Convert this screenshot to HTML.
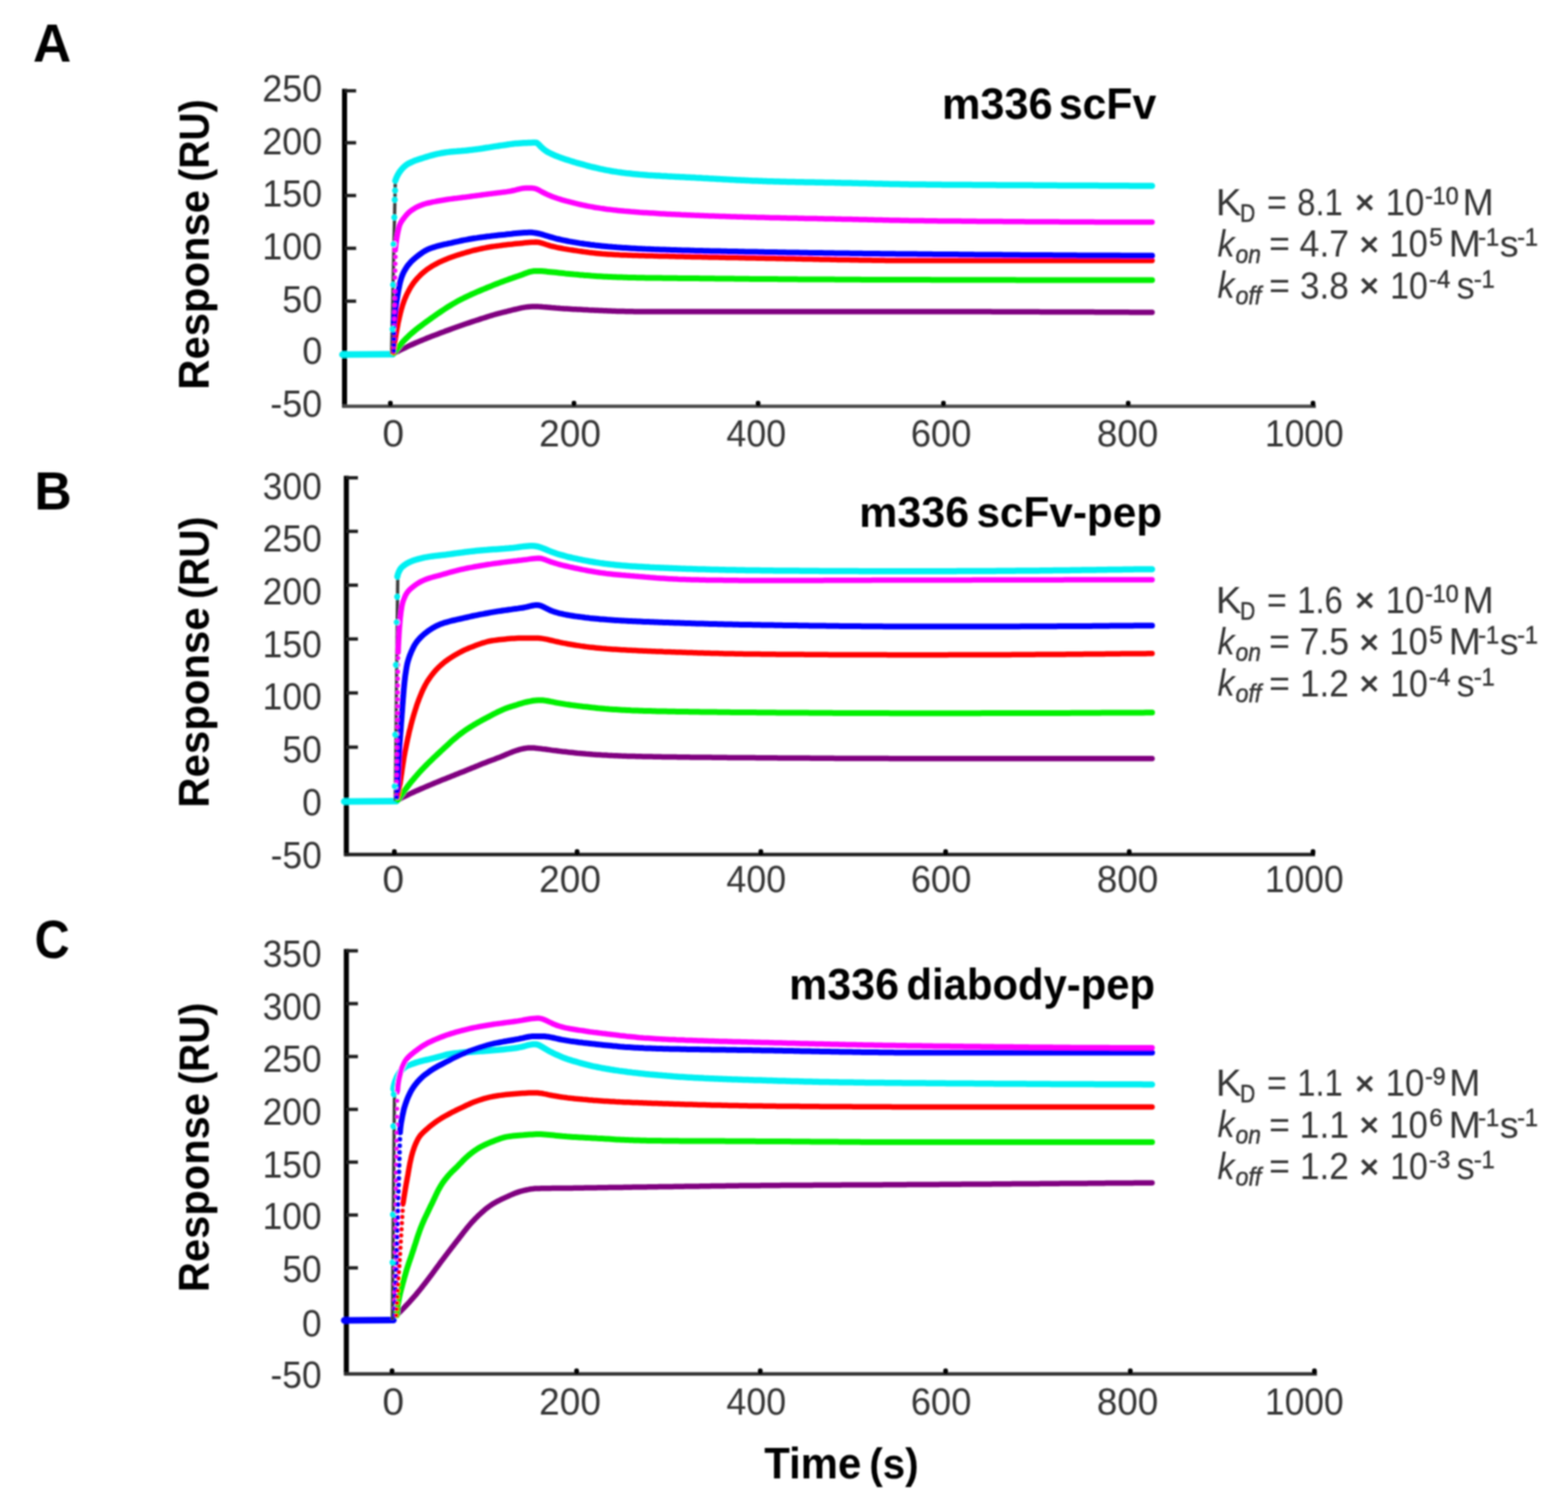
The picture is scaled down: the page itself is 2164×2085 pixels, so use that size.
<!DOCTYPE html><html><head><meta charset="utf-8"><title>SPR sensorgrams: m336 scFv, scFv-pep, diabody-pep</title><style>
html,body{margin:0;padding:0;background:#fff;width:2164px;height:2085px;overflow:hidden}
svg{display:block}
text{font-family:'Liberation Sans', Arial, sans-serif;fill:#363636}
.k text{fill:#000}
</style></head><body>
<svg width="2164" height="2085" viewBox="0 0 2164 2085">
<defs><filter id="soft" filterUnits="userSpaceOnUse" x="0" y="0" width="2164" height="2085"><feGaussianBlur stdDeviation="0.8"/></filter></defs>
<rect width="2164" height="2085" fill="#fff"/>
<g filter="url(#soft)">
<g id="panelA">
<path d="M475.5,122.5 V562.6" stroke="#000" stroke-width="7"/>
<path d="M472.5,560.6 H1816.0" stroke="#4a4a4a" stroke-width="4.8"/>
<path d="M475.5,125.3 H491.5" stroke="#1e1e1e" stroke-width="4.6"/>
<path d="M475.5,197.0 H491.5" stroke="#1e1e1e" stroke-width="4.6"/>
<path d="M475.5,269.8 H491.5" stroke="#1e1e1e" stroke-width="4.6"/>
<path d="M475.5,342.6 H491.5" stroke="#1e1e1e" stroke-width="4.6"/>
<path d="M475.5,415.6 H491.5" stroke="#1e1e1e" stroke-width="4.6"/>
<path d="M475.5,488.5 H491.5" stroke="#1e1e1e" stroke-width="4.6"/>
<rect x="535.5" y="553.1" width="6.5" height="8" rx="3" fill="#000"/>
<rect x="788.9" y="553.1" width="6.5" height="8" rx="3" fill="#000"/>
<rect x="1043.0" y="553.1" width="6.5" height="8" rx="3" fill="#000"/>
<rect x="1298.8" y="553.1" width="6.5" height="8" rx="3" fill="#000"/>
<rect x="1553.8" y="553.1" width="6.5" height="8" rx="3" fill="#000"/>
<rect x="1808.8" y="553.1" width="6.5" height="8" rx="3" fill="#000"/>
<path d="M472.5,489.3 L542.0,488.8" stroke="#00F0F2" stroke-width="9.0" stroke-linecap="round"/>
<path d="M540.5,488.8 L545.5,252.0" stroke="#3c3c3c" stroke-width="4.6"/>
<path d="M543.5,487.5 L546.2,486.1 L548.9,484.8 L551.6,483.4 L554.3,482.1 L557.0,480.8 L559.7,479.5 L562.5,478.2 L565.2,476.9 L567.9,475.7 L570.7,474.5 L573.4,473.3 L576.2,472.1 L579.0,470.9 L581.8,469.7 L584.5,468.6 L587.3,467.5 L590.1,466.3 L592.9,465.2 L595.8,464.1 L598.6,463.0 L601.4,462.0 L604.2,460.9 L607.0,459.8 L609.8,458.7 L612.7,457.7 L615.5,456.6 L618.3,455.6 L621.1,454.6 L624.0,453.5 L626.8,452.5 L629.6,451.5 L632.5,450.5 L635.3,449.5 L638.2,448.5 L641.0,447.5 L643.9,446.5 L646.7,445.6 L649.6,444.6 L652.5,443.7 L655.3,442.8 L658.2,441.8 L661.1,440.9 L663.9,439.9 L666.8,439.0 L669.7,438.1 L672.6,437.2 L675.4,436.3 L678.3,435.4 L681.2,434.5 L684.1,433.7 L687.0,432.9 L689.9,432.1 L692.8,431.4 L695.8,430.7 L698.7,430.0 L701.6,429.2 L704.6,428.5 L707.5,427.7 L710.5,427.0 L713.4,426.3 L716.4,425.6 L719.4,424.9 L722.3,424.4 L725.3,423.9 L728.3,423.5 L731.3,423.2 L734.3,423.0 L737.2,422.9 L740.2,422.9 L743.2,423.1 L746.2,423.2 L749.2,423.5 L752.2,423.7 L755.2,424.0 L758.2,424.3 L761.3,424.6 L764.3,424.8 L767.3,425.1 L770.3,425.3 L773.3,425.6 L776.3,425.8 L779.3,426.0 L782.3,426.1 L785.3,426.3 L788.3,426.5 L791.4,426.7 L794.4,426.8 L797.4,427.0 L800.4,427.1 L803.4,427.3 L806.4,427.5 L809.4,427.6 L812.4,427.8 L815.4,427.9 L818.4,428.0 L821.5,428.2 L824.5,428.3 L827.5,428.5 L830.5,428.6 L833.5,428.7 L836.5,428.8 L839.5,429.0 L842.5,429.1 L845.6,429.2 L848.6,429.3 L851.6,429.4 L854.6,429.5 L857.6,429.5 L860.6,429.6 L863.6,429.7 L866.6,429.7 L869.6,429.8 L872.7,429.8 L875.7,429.9 L878.7,429.9 L881.7,429.9 L884.7,429.9 L887.7,429.9 L890.7,430.0 L893.8,430.0 L896.8,430.0 L899.8,430.0 L902.8,430.0 L905.8,430.0 L908.8,430.0 L911.8,430.0 L914.8,430.0 L917.9,430.0 L920.9,430.0 L923.9,430.0 L926.9,430.0 L929.9,430.0 L932.9,430.0 L935.9,430.0 L939.0,430.0 L942.0,430.0 L945.0,430.0 L948.0,430.0 L951.0,430.0 L954.0,430.0 L957.0,430.0 L960.0,430.0 L963.1,430.0 L966.1,430.0 L969.1,430.0 L972.1,430.0 L975.1,430.0 L978.1,430.0 L981.1,430.0 L984.2,430.0 L987.2,430.0 L990.2,430.0 L993.2,430.0 L996.2,430.0 L999.2,430.0 L1002.2,430.0 L1005.3,430.0 L1008.3,430.0 L1011.3,430.0 L1014.3,430.0 L1017.3,430.0 L1020.3,430.0 L1023.3,430.0 L1026.4,430.0 L1029.4,430.0 L1032.4,430.0 L1035.4,430.0 L1038.4,430.0 L1041.4,430.0 L1044.4,430.0 L1047.5,430.0 L1050.5,430.0 L1053.5,430.0 L1056.5,430.0 L1059.5,430.0 L1062.5,430.0 L1065.5,430.0 L1068.6,430.0 L1071.6,430.0 L1074.6,430.0 L1077.6,430.0 L1080.6,430.0 L1083.6,430.0 L1086.6,430.0 L1089.7,430.0 L1092.7,430.0 L1095.7,430.0 L1098.7,430.0 L1101.7,430.0 L1104.7,430.0 L1107.7,430.0 L1110.8,430.0 L1113.8,430.0 L1116.8,430.0 L1119.8,430.0 L1122.8,430.0 L1125.8,430.0 L1128.8,430.0 L1131.9,430.0 L1134.9,430.0 L1137.9,430.0 L1140.9,430.0 L1143.9,430.0 L1146.9,430.0 L1149.9,430.0 L1153.0,430.0 L1156.0,430.0 L1159.0,430.0 L1162.0,430.0 L1165.0,430.0 L1168.0,430.0 L1171.0,430.0 L1174.1,430.0 L1177.1,430.0 L1180.1,430.0 L1183.1,430.0 L1186.1,430.0 L1189.1,430.0 L1192.1,430.0 L1195.2,430.0 L1198.2,430.0 L1201.2,430.0 L1204.2,430.0 L1207.2,430.0 L1210.2,430.0 L1213.2,430.0 L1216.3,430.0 L1219.3,430.0 L1222.3,430.0 L1225.3,430.0 L1228.3,430.0 L1231.3,430.0 L1234.3,430.0 L1237.4,430.0 L1240.4,430.0 L1243.4,430.0 L1246.4,430.0 L1249.4,430.0 L1252.4,430.0 L1255.4,430.0 L1258.5,430.0 L1261.5,430.0 L1264.5,430.0 L1267.5,430.0 L1270.5,430.0 L1273.5,430.0 L1276.5,430.0 L1279.6,430.0 L1282.6,430.0 L1285.6,430.0 L1288.6,430.0 L1291.6,430.0 L1294.6,430.0 L1297.6,430.0 L1300.7,430.0 L1303.7,430.0 L1306.7,430.0 L1309.7,430.0 L1312.7,430.0 L1315.7,430.0 L1318.7,430.1 L1321.8,430.1 L1324.8,430.1 L1327.8,430.1 L1330.8,430.1 L1333.8,430.1 L1336.8,430.1 L1339.8,430.1 L1342.9,430.1 L1345.9,430.1 L1348.9,430.1 L1351.9,430.1 L1354.9,430.1 L1357.9,430.1 L1360.9,430.1 L1363.9,430.1 L1367.0,430.1 L1370.0,430.2 L1373.0,430.2 L1376.0,430.2 L1379.0,430.2 L1382.0,430.2 L1385.0,430.2 L1388.1,430.2 L1391.1,430.2 L1394.1,430.2 L1397.1,430.2 L1400.1,430.2 L1403.1,430.2 L1406.1,430.3 L1409.2,430.3 L1412.2,430.3 L1415.2,430.3 L1418.2,430.3 L1421.2,430.3 L1424.2,430.3 L1427.2,430.3 L1430.3,430.3 L1433.3,430.3 L1436.3,430.4 L1439.3,430.4 L1442.3,430.4 L1445.3,430.4 L1448.3,430.4 L1451.4,430.4 L1454.4,430.4 L1457.4,430.4 L1460.4,430.4 L1463.4,430.5 L1466.4,430.5 L1469.4,430.5 L1472.5,430.5 L1475.5,430.5 L1478.5,430.5 L1481.5,430.5 L1484.5,430.5 L1487.5,430.6 L1490.5,430.6 L1493.6,430.6 L1496.6,430.6 L1499.6,430.6 L1502.6,430.6 L1505.6,430.6 L1508.6,430.6 L1511.6,430.7 L1514.6,430.7 L1517.7,430.7 L1520.7,430.7 L1523.7,430.7 L1526.7,430.7 L1529.7,430.7 L1532.7,430.7 L1535.7,430.8 L1538.8,430.8 L1541.8,430.8 L1544.8,430.8 L1547.8,430.8 L1550.8,430.8 L1553.8,430.8 L1556.8,430.8 L1559.9,430.9 L1562.9,430.9 L1565.9,430.9 L1568.9,430.9 L1571.9,430.9 L1574.9,430.9 L1577.9,430.9 L1581.0,430.9 L1584.0,430.9 L1587.0,430.9 L1590.0,430.9" fill="none" stroke="#800080" stroke-width="7.5" stroke-linecap="round" stroke-linejoin="round"/>
<path d="M543.5,487.5 L545.3,485.0 L547.1,482.6 L549.0,480.2 L550.8,477.8 L552.8,475.5 L554.7,473.2 L556.7,471.0 L558.8,468.8 L560.9,466.6 L563.0,464.6 L565.1,462.5 L567.4,460.5 L569.6,458.6 L572.0,456.6 L574.3,454.7 L576.7,452.8 L579.1,451.0 L581.5,449.2 L583.9,447.4 L586.4,445.6 L588.8,443.8 L591.3,442.0 L593.7,440.3 L596.1,438.5 L598.6,436.8 L601.1,435.0 L603.5,433.3 L606.0,431.6 L608.5,429.9 L611.0,428.2 L613.6,426.5 L616.1,424.9 L618.7,423.2 L621.2,421.7 L623.8,420.1 L626.4,418.6 L629.0,417.1 L631.6,415.6 L634.2,414.2 L636.9,412.8 L639.6,411.5 L642.3,410.1 L645.0,408.8 L647.7,407.6 L650.4,406.3 L653.2,405.1 L656.0,403.9 L658.7,402.7 L661.5,401.5 L664.3,400.3 L667.1,399.1 L669.9,398.0 L672.7,396.8 L675.5,395.7 L678.2,394.6 L681.0,393.4 L683.8,392.3 L686.6,391.2 L689.4,390.1 L692.3,389.0 L695.1,388.0 L697.9,386.9 L700.7,385.9 L703.6,384.9 L706.4,383.9 L709.3,382.9 L712.1,381.9 L715.0,381.0 L717.8,380.0 L720.7,378.9 L723.6,377.8 L726.4,376.7 L729.3,375.7 L732.2,374.9 L735.2,374.3 L738.1,373.9 L741.0,373.9 L744.0,374.0 L747.0,374.1 L750.0,374.3 L753.0,374.6 L756.0,374.9 L759.0,375.2 L762.0,375.5 L765.0,375.8 L768.1,376.1 L771.1,376.4 L774.1,376.7 L777.1,377.0 L780.1,377.4 L783.1,377.7 L786.1,378.0 L789.1,378.3 L792.1,378.6 L795.1,378.8 L798.0,379.1 L801.0,379.4 L804.0,379.6 L807.0,379.9 L810.0,380.1 L813.0,380.3 L816.0,380.6 L819.0,380.8 L822.0,381.0 L825.0,381.2 L828.1,381.3 L831.1,381.5 L834.1,381.7 L837.1,381.8 L840.1,382.0 L843.1,382.1 L846.1,382.2 L849.1,382.3 L852.1,382.4 L855.1,382.6 L858.2,382.6 L861.2,382.7 L864.2,382.8 L867.2,382.9 L870.2,383.0 L873.2,383.0 L876.2,383.1 L879.2,383.2 L882.2,383.2 L885.3,383.3 L888.3,383.3 L891.3,383.4 L894.3,383.4 L897.3,383.4 L900.3,383.5 L903.3,383.5 L906.3,383.6 L909.3,383.6 L912.4,383.6 L915.4,383.7 L918.4,383.7 L921.4,383.7 L924.4,383.8 L927.4,383.8 L930.4,383.8 L933.4,383.8 L936.5,383.9 L939.5,383.9 L942.5,383.9 L945.5,384.0 L948.5,384.0 L951.5,384.0 L954.5,384.0 L957.5,384.1 L960.6,384.1 L963.6,384.1 L966.6,384.2 L969.6,384.2 L972.6,384.2 L975.6,384.2 L978.6,384.3 L981.6,384.3 L984.6,384.3 L987.7,384.4 L990.7,384.4 L993.7,384.4 L996.7,384.5 L999.7,384.5 L1002.7,384.5 L1005.7,384.6 L1008.7,384.6 L1011.7,384.6 L1014.8,384.7 L1017.8,384.7 L1020.8,384.7 L1023.8,384.7 L1026.8,384.8 L1029.8,384.8 L1032.8,384.8 L1035.8,384.9 L1038.9,384.9 L1041.9,384.9 L1044.9,384.9 L1047.9,385.0 L1050.9,385.0 L1053.9,385.0 L1056.9,385.0 L1059.9,385.1 L1062.9,385.1 L1066.0,385.1 L1069.0,385.1 L1072.0,385.1 L1075.0,385.2 L1078.0,385.2 L1081.0,385.2 L1084.0,385.2 L1087.0,385.3 L1090.1,385.3 L1093.1,385.3 L1096.1,385.3 L1099.1,385.3 L1102.1,385.4 L1105.1,385.4 L1108.1,385.4 L1111.1,385.4 L1114.1,385.4 L1117.2,385.5 L1120.2,385.5 L1123.2,385.5 L1126.2,385.5 L1129.2,385.5 L1132.2,385.5 L1135.2,385.6 L1138.2,385.6 L1141.2,385.6 L1144.3,385.6 L1147.3,385.6 L1150.3,385.6 L1153.3,385.7 L1156.3,385.7 L1159.3,385.7 L1162.3,385.7 L1165.3,385.7 L1168.4,385.7 L1171.4,385.8 L1174.4,385.8 L1177.4,385.8 L1180.4,385.8 L1183.4,385.8 L1186.4,385.8 L1189.4,385.9 L1192.4,385.9 L1195.5,385.9 L1198.5,385.9 L1201.5,385.9 L1204.5,385.9 L1207.5,385.9 L1210.5,385.9 L1213.5,386.0 L1216.5,386.0 L1219.6,386.0 L1222.6,386.0 L1225.6,386.0 L1228.6,386.0 L1231.6,386.0 L1234.6,386.0 L1237.6,386.0 L1240.6,386.0 L1243.6,386.1 L1246.7,386.1 L1249.7,386.1 L1252.7,386.1 L1255.7,386.1 L1258.7,386.1 L1261.7,386.1 L1264.7,386.1 L1267.7,386.1 L1270.8,386.1 L1273.8,386.1 L1276.8,386.1 L1279.8,386.1 L1282.8,386.1 L1285.8,386.2 L1288.8,386.2 L1291.8,386.2 L1294.8,386.2 L1297.9,386.2 L1300.9,386.2 L1303.9,386.2 L1306.9,386.2 L1309.9,386.2 L1312.9,386.2 L1315.9,386.2 L1318.9,386.2 L1322.0,386.2 L1325.0,386.2 L1328.0,386.2 L1331.0,386.2 L1334.0,386.2 L1337.0,386.2 L1340.0,386.3 L1343.0,386.3 L1346.0,386.3 L1349.1,386.3 L1352.1,386.3 L1355.1,386.3 L1358.1,386.3 L1361.1,386.3 L1364.1,386.3 L1367.1,386.3 L1370.1,386.3 L1373.2,386.3 L1376.2,386.3 L1379.2,386.3 L1382.2,386.3 L1385.2,386.3 L1388.2,386.3 L1391.2,386.3 L1394.2,386.3 L1397.2,386.3 L1400.3,386.3 L1403.3,386.4 L1406.3,386.4 L1409.3,386.4 L1412.3,386.4 L1415.3,386.4 L1418.3,386.4 L1421.3,386.4 L1424.4,386.4 L1427.4,386.4 L1430.4,386.4 L1433.4,386.4 L1436.4,386.4 L1439.4,386.4 L1442.4,386.4 L1445.4,386.4 L1448.4,386.4 L1451.5,386.4 L1454.5,386.4 L1457.5,386.4 L1460.5,386.4 L1463.5,386.4 L1466.5,386.4 L1469.5,386.4 L1472.5,386.4 L1475.6,386.4 L1478.6,386.4 L1481.6,386.4 L1484.6,386.4 L1487.6,386.5 L1490.6,386.5 L1493.6,386.5 L1496.6,386.5 L1499.6,386.5 L1502.7,386.5 L1505.7,386.5 L1508.7,386.5 L1511.7,386.5 L1514.7,386.5 L1517.7,386.5 L1520.7,386.5 L1523.7,386.5 L1526.8,386.5 L1529.8,386.5 L1532.8,386.5 L1535.8,386.5 L1538.8,386.5 L1541.8,386.5 L1544.8,386.5 L1547.8,386.5 L1550.8,386.5 L1553.9,386.5 L1556.9,386.5 L1559.9,386.5 L1562.9,386.5 L1565.9,386.5 L1568.9,386.5 L1571.9,386.5 L1574.9,386.5 L1578.0,386.5 L1581.0,386.5 L1584.0,386.5 L1587.0,386.5 L1590.0,386.5" fill="none" stroke="#00F000" stroke-width="8.0" stroke-linecap="round" stroke-linejoin="round"/>
<path d="M543.0,486.0 L543.4,483.0 L543.7,480.0 L544.1,477.0 L544.5,474.0 L545.0,471.1 L545.5,468.1 L545.9,465.1 L546.4,462.1 L546.9,459.2 L547.5,456.2 L548.0,453.3 L548.6,450.3 L549.1,447.3 L549.7,444.3 L550.4,441.4 L551.0,438.4 L551.7,435.5 L552.4,432.5 L553.2,429.6 L553.9,426.7 L554.8,423.8 L555.6,421.0 L556.6,418.2 L557.6,415.3 L558.7,412.5 L559.9,409.7 L561.1,406.9 L562.5,404.1 L563.9,401.4 L565.3,398.8 L566.8,396.2 L568.4,393.7 L570.0,391.3 L571.8,388.9 L573.8,386.5 L575.8,384.2 L577.9,382.0 L580.0,379.8 L582.2,377.7 L584.4,375.8 L586.7,373.9 L589.1,372.1 L591.6,370.3 L594.2,368.6 L596.7,367.0 L599.4,365.5 L602.0,364.1 L604.6,362.7 L607.3,361.4 L610.1,360.1 L612.8,358.9 L615.6,357.8 L618.4,356.6 L621.3,355.5 L624.1,354.5 L627.0,353.5 L629.8,352.5 L632.7,351.6 L635.5,350.7 L638.4,349.8 L641.3,349.0 L644.2,348.1 L647.1,347.3 L650.0,346.5 L652.9,345.7 L655.9,345.0 L658.8,344.3 L661.8,343.6 L664.7,343.0 L667.7,342.4 L670.6,341.8 L673.6,341.3 L676.5,340.8 L679.5,340.3 L682.5,339.9 L685.4,339.5 L688.4,339.1 L691.4,338.7 L694.4,338.3 L697.4,337.9 L700.4,337.6 L703.4,337.3 L706.4,337.0 L709.4,336.6 L712.4,336.3 L715.4,336.1 L718.4,335.7 L721.4,335.4 L724.4,335.1 L727.5,334.8 L730.5,334.5 L733.5,334.3 L736.5,334.2 L739.4,334.1 L742.4,334.3 L745.3,334.8 L748.2,335.6 L751.1,336.5 L754.0,337.5 L756.9,338.4 L759.8,339.3 L762.7,340.0 L765.6,340.7 L768.5,341.4 L771.5,342.0 L774.5,342.5 L777.4,343.1 L780.4,343.6 L783.4,344.1 L786.4,344.6 L789.3,345.0 L792.3,345.5 L795.3,345.9 L798.3,346.4 L801.3,346.8 L804.2,347.2 L807.2,347.6 L810.2,348.0 L813.2,348.4 L816.2,348.7 L819.2,349.1 L822.2,349.4 L825.2,349.7 L828.1,350.0 L831.1,350.3 L834.1,350.5 L837.1,350.7 L840.1,351.0 L843.1,351.1 L846.1,351.3 L849.2,351.5 L852.2,351.6 L855.2,351.8 L858.2,351.9 L861.2,352.0 L864.2,352.1 L867.2,352.2 L870.2,352.3 L873.3,352.4 L876.3,352.5 L879.3,352.6 L882.3,352.7 L885.3,352.8 L888.3,352.8 L891.3,352.9 L894.3,353.0 L897.3,353.1 L900.4,353.1 L903.4,353.2 L906.4,353.3 L909.4,353.4 L912.4,353.4 L915.4,353.5 L918.4,353.6 L921.4,353.6 L924.4,353.7 L927.5,353.8 L930.5,353.8 L933.5,353.9 L936.5,354.0 L939.5,354.0 L942.5,354.1 L945.5,354.2 L948.5,354.2 L951.5,354.3 L954.6,354.4 L957.6,354.4 L960.6,354.5 L963.6,354.6 L966.6,354.6 L969.6,354.7 L972.6,354.8 L975.6,354.8 L978.6,354.9 L981.7,354.9 L984.7,355.0 L987.7,355.1 L990.7,355.1 L993.7,355.2 L996.7,355.2 L999.7,355.3 L1002.7,355.4 L1005.7,355.4 L1008.8,355.5 L1011.8,355.5 L1014.8,355.6 L1017.8,355.6 L1020.8,355.7 L1023.8,355.8 L1026.8,355.8 L1029.8,355.9 L1032.8,355.9 L1035.9,356.0 L1038.9,356.0 L1041.9,356.1 L1044.9,356.2 L1047.9,356.2 L1050.9,356.3 L1053.9,356.3 L1056.9,356.4 L1059.9,356.4 L1063.0,356.5 L1066.0,356.5 L1069.0,356.6 L1072.0,356.7 L1075.0,356.7 L1078.0,356.8 L1081.0,356.8 L1084.0,356.9 L1087.1,357.0 L1090.1,357.0 L1093.1,357.1 L1096.1,357.1 L1099.1,357.2 L1102.1,357.3 L1105.1,357.3 L1108.1,357.4 L1111.1,357.4 L1114.2,357.5 L1117.2,357.6 L1120.2,357.6 L1123.2,357.7 L1126.2,357.8 L1129.2,357.8 L1132.2,357.9 L1135.2,357.9 L1138.2,358.0 L1141.3,358.1 L1144.3,358.1 L1147.3,358.2 L1150.3,358.2 L1153.3,358.3 L1156.3,358.4 L1159.3,358.4 L1162.3,358.5 L1165.3,358.5 L1168.4,358.6 L1171.4,358.6 L1174.4,358.7 L1177.4,358.7 L1180.4,358.8 L1183.4,358.8 L1186.4,358.9 L1189.4,358.9 L1192.4,359.0 L1195.5,359.0 L1198.5,359.1 L1201.5,359.1 L1204.5,359.2 L1207.5,359.2 L1210.5,359.2 L1213.5,359.3 L1216.5,359.3 L1219.6,359.3 L1222.6,359.4 L1225.6,359.4 L1228.6,359.4 L1231.6,359.4 L1234.6,359.5 L1237.6,359.5 L1240.6,359.5 L1243.6,359.5 L1246.7,359.5 L1249.7,359.5 L1252.7,359.5 L1255.7,359.6 L1258.7,359.6 L1261.7,359.6 L1264.7,359.6 L1267.7,359.6 L1270.7,359.6 L1273.8,359.6 L1276.8,359.6 L1279.8,359.6 L1282.8,359.6 L1285.8,359.6 L1288.8,359.6 L1291.8,359.6 L1294.8,359.6 L1297.9,359.6 L1300.9,359.6 L1303.9,359.6 L1306.9,359.6 L1309.9,359.6 L1312.9,359.6 L1315.9,359.6 L1318.9,359.6 L1321.9,359.6 L1325.0,359.6 L1328.0,359.6 L1331.0,359.6 L1334.0,359.6 L1337.0,359.6 L1340.0,359.6 L1343.0,359.6 L1346.0,359.6 L1349.1,359.6 L1352.1,359.6 L1355.1,359.6 L1358.1,359.6 L1361.1,359.6 L1364.1,359.6 L1367.1,359.6 L1370.1,359.6 L1373.1,359.6 L1376.2,359.6 L1379.2,359.6 L1382.2,359.6 L1385.2,359.6 L1388.2,359.6 L1391.2,359.6 L1394.2,359.6 L1397.2,359.6 L1400.3,359.6 L1403.3,359.6 L1406.3,359.6 L1409.3,359.6 L1412.3,359.6 L1415.3,359.6 L1418.3,359.6 L1421.3,359.6 L1424.3,359.6 L1427.4,359.6 L1430.4,359.6 L1433.4,359.6 L1436.4,359.6 L1439.4,359.6 L1442.4,359.6 L1445.4,359.6 L1448.4,359.6 L1451.5,359.6 L1454.5,359.6 L1457.5,359.6 L1460.5,359.6 L1463.5,359.6 L1466.5,359.6 L1469.5,359.6 L1472.5,359.6 L1475.5,359.6 L1478.6,359.6 L1481.6,359.6 L1484.6,359.6 L1487.6,359.6 L1490.6,359.6 L1493.6,359.6 L1496.6,359.6 L1499.6,359.6 L1502.7,359.6 L1505.7,359.6 L1508.7,359.6 L1511.7,359.6 L1514.7,359.6 L1517.7,359.6 L1520.7,359.6 L1523.7,359.6 L1526.7,359.6 L1529.8,359.6 L1532.8,359.6 L1535.8,359.6 L1538.8,359.6 L1541.8,359.6 L1544.8,359.6 L1547.8,359.6 L1550.8,359.6 L1553.9,359.6 L1556.9,359.6 L1559.9,359.6 L1562.9,359.6 L1565.9,359.6 L1568.9,359.6 L1571.9,359.6 L1574.9,359.6 L1578.0,359.6 L1581.0,359.6 L1584.0,359.6 L1587.0,359.6 L1590.0,359.6" fill="none" stroke="#FF0000" stroke-width="7.5" stroke-linecap="round" stroke-linejoin="round"/>
<path d="M543.5,445.3 L543.8,442.3 L544.2,439.3 L544.5,436.3 L544.9,433.3 L545.3,430.3 L545.7,427.3 L546.1,424.3 L546.6,421.4 L547.0,418.4 L547.5,415.4 L548.0,412.4 L548.4,409.4 L548.9,406.4 L549.4,403.4 L549.9,400.4 L550.5,397.4 L551.1,394.5 L551.7,391.5 L552.4,388.6 L553.2,385.8 L554.1,382.9 L555.1,380.1 L556.3,377.3 L557.7,374.5 L559.2,371.9 L560.8,369.3 L562.4,366.9 L564.3,364.6 L566.3,362.3 L568.4,360.1 L570.7,358.0 L573.0,356.0 L575.3,354.1 L577.7,352.3 L580.1,350.5 L582.6,348.7 L585.2,347.0 L587.8,345.5 L590.5,344.1 L593.2,343.0 L596.0,342.0 L598.8,341.1 L601.7,340.2 L604.6,339.4 L607.5,338.6 L610.5,337.9 L613.5,337.2 L616.5,336.6 L619.4,335.9 L622.4,335.3 L625.3,334.6 L628.3,333.9 L631.2,333.3 L634.2,332.7 L637.1,332.0 L640.1,331.4 L643.0,330.9 L646.0,330.3 L649.0,329.8 L651.9,329.3 L654.9,328.8 L657.9,328.4 L660.9,327.9 L663.9,327.5 L666.8,327.1 L669.8,326.7 L672.8,326.3 L675.8,326.0 L678.8,325.6 L681.8,325.3 L684.8,324.9 L687.8,324.6 L690.8,324.3 L693.8,324.0 L696.8,323.7 L699.8,323.3 L702.8,323.0 L705.8,322.7 L708.8,322.3 L711.8,322.0 L714.8,321.7 L717.9,321.4 L720.9,321.2 L723.9,321.0 L726.9,320.9 L729.9,320.8 L732.9,320.8 L735.9,321.1 L738.9,321.5 L741.9,322.0 L744.8,322.7 L747.7,323.4 L750.6,324.3 L753.5,325.2 L756.4,326.0 L759.2,326.9 L762.1,327.7 L765.0,328.5 L767.9,329.3 L770.8,330.0 L773.7,330.7 L776.7,331.3 L779.6,331.9 L782.5,332.5 L785.5,333.1 L788.4,333.6 L791.4,334.1 L794.4,334.6 L797.4,335.1 L800.3,335.6 L803.3,336.0 L806.3,336.5 L809.3,336.9 L812.3,337.3 L815.3,337.7 L818.3,338.0 L821.3,338.4 L824.3,338.7 L827.3,339.1 L830.3,339.4 L833.3,339.7 L836.3,340.0 L839.3,340.3 L842.3,340.5 L845.4,340.8 L848.4,341.0 L851.4,341.3 L854.4,341.5 L857.4,341.7 L860.4,341.9 L863.4,342.1 L866.4,342.3 L869.4,342.5 L872.4,342.7 L875.4,342.8 L878.4,343.0 L881.4,343.2 L884.5,343.3 L887.5,343.4 L890.5,343.6 L893.5,343.7 L896.5,343.8 L899.5,343.9 L902.5,344.1 L905.5,344.2 L908.5,344.3 L911.6,344.4 L914.6,344.5 L917.6,344.6 L920.6,344.7 L923.6,344.8 L926.6,344.9 L929.6,345.0 L932.7,345.1 L935.7,345.2 L938.7,345.3 L941.7,345.4 L944.7,345.4 L947.7,345.5 L950.7,345.6 L953.8,345.7 L956.8,345.8 L959.8,345.9 L962.8,345.9 L965.8,346.0 L968.8,346.1 L971.8,346.2 L974.9,346.2 L977.9,346.3 L980.9,346.4 L983.9,346.4 L986.9,346.5 L989.9,346.6 L993.0,346.6 L996.0,346.7 L999.0,346.8 L1002.0,346.8 L1005.0,346.9 L1008.0,347.0 L1011.1,347.0 L1014.1,347.1 L1017.1,347.1 L1020.1,347.2 L1023.1,347.2 L1026.1,347.3 L1029.2,347.4 L1032.2,347.4 L1035.2,347.5 L1038.2,347.5 L1041.2,347.6 L1044.2,347.6 L1047.3,347.7 L1050.3,347.7 L1053.3,347.8 L1056.3,347.9 L1059.3,347.9 L1062.3,348.0 L1065.3,348.0 L1068.4,348.1 L1071.4,348.1 L1074.4,348.2 L1077.4,348.2 L1080.4,348.3 L1083.4,348.3 L1086.4,348.4 L1089.5,348.4 L1092.5,348.5 L1095.5,348.5 L1098.5,348.6 L1101.5,348.6 L1104.5,348.7 L1107.6,348.7 L1110.6,348.8 L1113.6,348.8 L1116.6,348.9 L1119.6,348.9 L1122.6,348.9 L1125.6,349.0 L1128.7,349.0 L1131.7,349.1 L1134.7,349.1 L1137.7,349.2 L1140.7,349.2 L1143.7,349.3 L1146.7,349.3 L1149.8,349.3 L1152.8,349.4 L1155.8,349.4 L1158.8,349.5 L1161.8,349.5 L1164.8,349.5 L1167.9,349.6 L1170.9,349.6 L1173.9,349.7 L1176.9,349.7 L1179.9,349.7 L1182.9,349.8 L1185.9,349.8 L1189.0,349.8 L1192.0,349.9 L1195.0,349.9 L1198.0,349.9 L1201.0,350.0 L1204.0,350.0 L1207.1,350.1 L1210.1,350.1 L1213.1,350.1 L1216.1,350.2 L1219.1,350.2 L1222.1,350.2 L1225.1,350.2 L1228.2,350.3 L1231.2,350.3 L1234.2,350.3 L1237.2,350.4 L1240.2,350.4 L1243.2,350.4 L1246.3,350.5 L1249.3,350.5 L1252.3,350.5 L1255.3,350.5 L1258.3,350.6 L1261.3,350.6 L1264.3,350.6 L1267.4,350.7 L1270.4,350.7 L1273.4,350.7 L1276.4,350.7 L1279.4,350.8 L1282.4,350.8 L1285.4,350.8 L1288.5,350.9 L1291.5,350.9 L1294.5,350.9 L1297.5,350.9 L1300.5,351.0 L1303.5,351.0 L1306.6,351.0 L1309.6,351.0 L1312.6,351.1 L1315.6,351.1 L1318.6,351.1 L1321.6,351.1 L1324.6,351.2 L1327.7,351.2 L1330.7,351.2 L1333.7,351.3 L1336.7,351.3 L1339.7,351.3 L1342.7,351.3 L1345.8,351.4 L1348.8,351.4 L1351.8,351.4 L1354.8,351.4 L1357.8,351.5 L1360.8,351.5 L1363.8,351.5 L1366.9,351.5 L1369.9,351.6 L1372.9,351.6 L1375.9,351.6 L1378.9,351.6 L1381.9,351.6 L1385.0,351.7 L1388.0,351.7 L1391.0,351.7 L1394.0,351.7 L1397.0,351.8 L1400.0,351.8 L1403.0,351.8 L1406.1,351.8 L1409.1,351.9 L1412.1,351.9 L1415.1,351.9 L1418.1,351.9 L1421.1,351.9 L1424.2,352.0 L1427.2,352.0 L1430.2,352.0 L1433.2,352.0 L1436.2,352.0 L1439.2,352.1 L1442.2,352.1 L1445.3,352.1 L1448.3,352.1 L1451.3,352.1 L1454.3,352.2 L1457.3,352.2 L1460.3,352.2 L1463.4,352.2 L1466.4,352.2 L1469.4,352.3 L1472.4,352.3 L1475.4,352.3 L1478.4,352.3 L1481.4,352.3 L1484.5,352.3 L1487.5,352.4 L1490.5,352.4 L1493.5,352.4 L1496.5,352.4 L1499.5,352.4 L1502.6,352.4 L1505.6,352.5 L1508.6,352.5 L1511.6,352.5 L1514.6,352.5 L1517.6,352.5 L1520.6,352.5 L1523.7,352.6 L1526.7,352.6 L1529.7,352.6 L1532.7,352.6 L1535.7,352.6 L1538.7,352.6 L1541.8,352.6 L1544.8,352.6 L1547.8,352.7 L1550.8,352.7 L1553.8,352.7 L1556.8,352.7 L1559.8,352.7 L1562.9,352.7 L1565.9,352.7 L1568.9,352.7 L1571.9,352.7 L1574.9,352.7 L1577.9,352.7 L1581.0,352.7 L1584.0,352.7 L1587.0,352.7 L1590.0,352.8" fill="none" stroke="#0000FF" stroke-width="8.0" stroke-linecap="round" stroke-linejoin="round"/>
<path d="M545.5,345.0 L545.8,342.0 L546.2,339.0 L546.5,336.0 L547.0,333.0 L547.4,330.1 L547.9,327.1 L548.4,324.1 L549.0,321.1 L549.6,318.1 L550.3,315.2 L551.0,312.3 L552.0,309.5 L553.3,306.9 L555.0,304.3 L556.8,301.8 L558.6,299.4 L560.5,297.1 L562.6,294.8 L564.8,292.7 L567.1,290.8 L569.5,289.2 L572.1,287.6 L574.7,286.1 L577.5,284.7 L580.3,283.5 L583.1,282.4 L585.9,281.5 L588.8,280.7 L591.7,280.0 L594.6,279.3 L597.5,278.6 L600.5,278.1 L603.5,277.5 L606.5,277.0 L609.5,276.5 L612.5,276.0 L615.4,275.5 L618.4,275.0 L621.4,274.6 L624.4,274.2 L627.4,273.8 L630.4,273.5 L633.3,273.1 L636.3,272.7 L639.3,272.3 L642.3,272.0 L645.3,271.6 L648.3,271.2 L651.3,270.8 L654.3,270.4 L657.2,270.0 L660.2,269.6 L663.2,269.2 L666.2,268.8 L669.2,268.4 L672.2,268.0 L675.1,267.6 L678.1,267.3 L681.1,266.9 L684.1,266.5 L687.1,266.1 L690.1,265.8 L693.1,265.4 L696.1,265.0 L699.0,264.6 L702.0,264.1 L705.0,263.7 L707.9,263.0 L710.9,262.3 L713.8,261.5 L716.8,260.8 L719.7,260.1 L722.7,259.7 L725.7,259.6 L728.7,259.6 L731.8,259.6 L734.8,259.6 L737.8,260.0 L740.6,260.8 L743.2,262.1 L745.7,263.5 L748.2,264.8 L750.7,266.1 L753.2,267.4 L755.8,268.6 L758.6,269.8 L761.4,270.9 L764.2,272.0 L767.1,273.0 L770.0,274.0 L772.9,274.9 L775.8,275.8 L778.6,276.6 L781.5,277.4 L784.5,278.1 L787.4,278.9 L790.3,279.6 L793.2,280.4 L796.2,281.1 L799.1,281.8 L802.1,282.5 L805.0,283.1 L808.0,283.7 L810.9,284.3 L813.9,284.9 L816.9,285.4 L819.8,286.0 L822.8,286.5 L825.8,286.9 L828.8,287.4 L831.7,287.8 L834.7,288.3 L837.7,288.7 L840.7,289.0 L843.7,289.4 L846.7,289.8 L849.7,290.1 L852.7,290.4 L855.7,290.7 L858.7,291.0 L861.7,291.3 L864.7,291.5 L867.7,291.8 L870.7,292.1 L873.7,292.3 L876.7,292.5 L879.7,292.7 L882.7,293.0 L885.7,293.2 L888.7,293.4 L891.7,293.6 L894.7,293.8 L897.7,294.0 L900.7,294.1 L903.7,294.3 L906.7,294.5 L909.7,294.7 L912.7,294.9 L915.7,295.0 L918.8,295.2 L921.8,295.4 L924.8,295.5 L927.8,295.7 L930.8,295.8 L933.8,296.0 L936.8,296.1 L939.8,296.3 L942.8,296.4 L945.8,296.5 L948.8,296.7 L951.8,296.8 L954.8,296.9 L957.9,297.1 L960.9,297.2 L963.9,297.3 L966.9,297.4 L969.9,297.5 L972.9,297.7 L975.9,297.8 L978.9,297.9 L981.9,298.0 L984.9,298.1 L987.9,298.2 L990.9,298.3 L994.0,298.4 L997.0,298.5 L1000.0,298.6 L1003.0,298.7 L1006.0,298.8 L1009.0,298.9 L1012.0,299.0 L1015.0,299.1 L1018.0,299.2 L1021.0,299.2 L1024.1,299.3 L1027.1,299.4 L1030.1,299.5 L1033.1,299.6 L1036.1,299.7 L1039.1,299.7 L1042.1,299.8 L1045.1,299.9 L1048.1,300.0 L1051.1,300.1 L1054.1,300.1 L1057.2,300.2 L1060.2,300.3 L1063.2,300.4 L1066.2,300.4 L1069.2,300.5 L1072.2,300.6 L1075.2,300.6 L1078.2,300.7 L1081.2,300.8 L1084.2,300.8 L1087.3,300.9 L1090.3,300.9 L1093.3,301.0 L1096.3,301.1 L1099.3,301.1 L1102.3,301.2 L1105.3,301.2 L1108.3,301.3 L1111.3,301.4 L1114.3,301.4 L1117.4,301.5 L1120.4,301.5 L1123.4,301.6 L1126.4,301.6 L1129.4,301.7 L1132.4,301.8 L1135.4,301.8 L1138.4,301.9 L1141.4,301.9 L1144.5,302.0 L1147.5,302.1 L1150.5,302.1 L1153.5,302.2 L1156.5,302.2 L1159.5,302.3 L1162.5,302.4 L1165.5,302.4 L1168.5,302.5 L1171.5,302.6 L1174.6,302.6 L1177.6,302.7 L1180.6,302.8 L1183.6,302.8 L1186.6,302.9 L1189.6,303.0 L1192.6,303.1 L1195.6,303.1 L1198.6,303.2 L1201.6,303.3 L1204.7,303.3 L1207.7,303.4 L1210.7,303.5 L1213.7,303.6 L1216.7,303.6 L1219.7,303.7 L1222.7,303.8 L1225.7,303.8 L1228.7,303.9 L1231.7,304.0 L1234.8,304.0 L1237.8,304.1 L1240.8,304.1 L1243.8,304.2 L1246.8,304.2 L1249.8,304.3 L1252.8,304.3 L1255.8,304.4 L1258.8,304.4 L1261.8,304.5 L1264.9,304.5 L1267.9,304.6 L1270.9,304.6 L1273.9,304.6 L1276.9,304.7 L1279.9,304.7 L1282.9,304.7 L1285.9,304.8 L1288.9,304.8 L1291.9,304.8 L1295.0,304.9 L1298.0,304.9 L1301.0,304.9 L1304.0,304.9 L1307.0,305.0 L1310.0,305.0 L1313.0,305.0 L1316.0,305.1 L1319.0,305.1 L1322.0,305.1 L1325.1,305.1 L1328.1,305.2 L1331.1,305.2 L1334.1,305.2 L1337.1,305.3 L1340.1,305.3 L1343.1,305.3 L1346.1,305.3 L1349.1,305.4 L1352.2,305.4 L1355.2,305.4 L1358.2,305.4 L1361.2,305.5 L1364.2,305.5 L1367.2,305.5 L1370.2,305.5 L1373.2,305.6 L1376.2,305.6 L1379.2,305.6 L1382.3,305.6 L1385.3,305.7 L1388.3,305.7 L1391.3,305.7 L1394.3,305.7 L1397.3,305.7 L1400.3,305.8 L1403.3,305.8 L1406.3,305.8 L1409.3,305.8 L1412.4,305.8 L1415.4,305.9 L1418.4,305.9 L1421.4,305.9 L1424.4,305.9 L1427.4,305.9 L1430.4,306.0 L1433.4,306.0 L1436.4,306.0 L1439.5,306.0 L1442.5,306.0 L1445.5,306.1 L1448.5,306.1 L1451.5,306.1 L1454.5,306.1 L1457.5,306.1 L1460.5,306.1 L1463.5,306.2 L1466.6,306.2 L1469.6,306.2 L1472.6,306.2 L1475.6,306.2 L1478.6,306.2 L1481.6,306.2 L1484.6,306.3 L1487.6,306.3 L1490.6,306.3 L1493.6,306.3 L1496.7,306.3 L1499.7,306.3 L1502.7,306.3 L1505.7,306.3 L1508.7,306.3 L1511.7,306.4 L1514.7,306.4 L1517.7,306.4 L1520.7,306.4 L1523.8,306.4 L1526.8,306.4 L1529.8,306.4 L1532.8,306.4 L1535.8,306.4 L1538.8,306.4 L1541.8,306.4 L1544.8,306.4 L1547.8,306.4 L1550.9,306.5 L1553.9,306.5 L1556.9,306.5 L1559.9,306.5 L1562.9,306.5 L1565.9,306.5 L1568.9,306.5 L1571.9,306.5 L1574.9,306.5 L1578.0,306.5 L1581.0,306.5 L1584.0,306.5 L1587.0,306.5 L1590.0,306.5" fill="none" stroke="#FF00FF" stroke-width="7.5" stroke-linecap="round" stroke-linejoin="round"/>
<path d="M545.5,249.4 L546.6,246.5 L547.8,243.7 L549.2,241.0 L550.7,238.5 L552.4,236.0 L554.3,233.7 L556.4,231.4 L558.6,229.3 L561.0,227.4 L563.4,225.9 L566.0,224.6 L568.7,223.3 L571.5,222.1 L574.4,221.1 L577.3,220.0 L580.2,219.1 L583.1,218.2 L586.0,217.3 L588.9,216.4 L591.8,215.5 L594.7,214.7 L597.6,213.9 L600.5,213.1 L603.5,212.4 L606.4,211.8 L609.4,211.2 L612.3,210.7 L615.3,210.3 L618.3,209.9 L621.3,209.5 L624.2,209.2 L627.2,208.9 L630.2,208.7 L633.3,208.4 L636.3,208.2 L639.3,207.9 L642.3,207.7 L645.3,207.4 L648.3,207.1 L651.3,206.8 L654.3,206.4 L657.3,206.0 L660.3,205.6 L663.2,205.2 L666.2,204.8 L669.2,204.3 L672.2,203.8 L675.2,203.4 L678.1,202.9 L681.1,202.4 L684.1,201.9 L687.1,201.5 L690.0,201.0 L693.0,200.6 L696.0,200.2 L699.0,199.8 L702.0,199.3 L705.0,198.9 L707.9,198.5 L710.9,198.1 L713.9,197.9 L717.0,197.7 L720.1,197.5 L723.2,197.3 L726.4,197.2 L729.5,197.0 L732.6,196.9 L735.5,196.8 L738.2,196.8 L740.7,197.0 L743.0,198.8 L745.1,201.0 L747.2,203.2 L749.4,205.2 L751.7,207.0 L754.2,208.7 L756.8,210.2 L759.5,211.6 L762.3,212.9 L765.0,214.1 L767.8,215.3 L770.7,216.4 L773.5,217.4 L776.4,218.4 L779.3,219.4 L782.1,220.4 L785.0,221.3 L787.9,222.2 L790.8,223.1 L793.6,224.0 L796.5,224.8 L799.4,225.6 L802.3,226.4 L805.2,227.2 L808.1,228.0 L811.0,228.8 L814.0,229.6 L816.9,230.3 L819.8,231.0 L822.7,231.7 L825.7,232.4 L828.6,233.1 L831.6,233.7 L834.5,234.3 L837.5,234.9 L840.5,235.4 L843.4,236.0 L846.4,236.5 L849.4,236.9 L852.3,237.4 L855.3,237.8 L858.3,238.2 L861.3,238.6 L864.3,239.0 L867.2,239.3 L870.2,239.6 L873.2,239.9 L876.2,240.2 L879.2,240.5 L882.2,240.8 L885.2,241.0 L888.2,241.2 L891.2,241.4 L894.2,241.7 L897.2,241.9 L900.2,242.1 L903.3,242.2 L906.3,242.4 L909.3,242.6 L912.3,242.8 L915.3,242.9 L918.3,243.1 L921.3,243.3 L924.4,243.4 L927.4,243.6 L930.4,243.7 L933.4,243.9 L936.4,244.0 L939.4,244.2 L942.5,244.3 L945.5,244.5 L948.5,244.7 L951.5,244.8 L954.5,245.0 L957.5,245.1 L960.5,245.3 L963.5,245.4 L966.5,245.6 L969.6,245.8 L972.6,245.9 L975.6,246.1 L978.6,246.3 L981.6,246.4 L984.6,246.6 L987.6,246.7 L990.6,246.9 L993.6,247.1 L996.6,247.2 L999.6,247.4 L1002.6,247.6 L1005.7,247.7 L1008.7,247.9 L1011.7,248.1 L1014.7,248.2 L1017.7,248.4 L1020.7,248.5 L1023.7,248.7 L1026.7,248.8 L1029.7,248.9 L1032.7,249.1 L1035.7,249.2 L1038.8,249.4 L1041.8,249.5 L1044.8,249.6 L1047.8,249.7 L1050.8,249.8 L1053.8,249.9 L1056.8,250.0 L1059.8,250.2 L1062.8,250.2 L1065.8,250.3 L1068.9,250.4 L1071.9,250.5 L1074.9,250.6 L1077.9,250.7 L1080.9,250.8 L1083.9,250.8 L1086.9,250.9 L1089.9,251.0 L1092.9,251.0 L1096.0,251.1 L1099.0,251.2 L1102.0,251.2 L1105.0,251.3 L1108.0,251.3 L1111.0,251.4 L1114.0,251.5 L1117.0,251.5 L1120.1,251.6 L1123.1,251.6 L1126.1,251.7 L1129.1,251.7 L1132.1,251.8 L1135.1,251.8 L1138.1,251.9 L1141.1,252.0 L1144.2,252.0 L1147.2,252.1 L1150.2,252.1 L1153.2,252.2 L1156.2,252.2 L1159.2,252.3 L1162.2,252.4 L1165.2,252.4 L1168.3,252.5 L1171.3,252.6 L1174.3,252.6 L1177.3,252.7 L1180.3,252.8 L1183.3,252.8 L1186.3,252.9 L1189.3,253.0 L1192.3,253.0 L1195.4,253.1 L1198.4,253.2 L1201.4,253.3 L1204.4,253.3 L1207.4,253.4 L1210.4,253.5 L1213.4,253.5 L1216.4,253.6 L1219.5,253.7 L1222.5,253.8 L1225.5,253.8 L1228.5,253.9 L1231.5,254.0 L1234.5,254.0 L1237.5,254.1 L1240.5,254.1 L1243.6,254.2 L1246.6,254.2 L1249.6,254.3 L1252.6,254.3 L1255.6,254.4 L1258.6,254.4 L1261.6,254.5 L1264.6,254.5 L1267.6,254.5 L1270.7,254.6 L1273.7,254.6 L1276.7,254.6 L1279.7,254.7 L1282.7,254.7 L1285.7,254.7 L1288.7,254.8 L1291.7,254.8 L1294.8,254.8 L1297.8,254.8 L1300.8,254.9 L1303.8,254.9 L1306.8,254.9 L1309.8,254.9 L1312.8,255.0 L1315.8,255.0 L1318.9,255.0 L1321.9,255.0 L1324.9,255.0 L1327.9,255.1 L1330.9,255.1 L1333.9,255.1 L1336.9,255.1 L1340.0,255.1 L1343.0,255.2 L1346.0,255.2 L1349.0,255.2 L1352.0,255.2 L1355.0,255.2 L1358.0,255.3 L1361.0,255.3 L1364.1,255.3 L1367.1,255.3 L1370.1,255.3 L1373.1,255.3 L1376.1,255.4 L1379.1,255.4 L1382.1,255.4 L1385.1,255.4 L1388.2,255.4 L1391.2,255.4 L1394.2,255.5 L1397.2,255.5 L1400.2,255.5 L1403.2,255.5 L1406.2,255.5 L1409.2,255.6 L1412.3,255.6 L1415.3,255.6 L1418.3,255.6 L1421.3,255.6 L1424.3,255.6 L1427.3,255.7 L1430.3,255.7 L1433.3,255.7 L1436.4,255.7 L1439.4,255.7 L1442.4,255.8 L1445.4,255.8 L1448.4,255.8 L1451.4,255.8 L1454.4,255.8 L1457.4,255.8 L1460.5,255.9 L1463.5,255.9 L1466.5,255.9 L1469.5,255.9 L1472.5,255.9 L1475.5,255.9 L1478.5,256.0 L1481.5,256.0 L1484.6,256.0 L1487.6,256.0 L1490.6,256.0 L1493.6,256.0 L1496.6,256.1 L1499.6,256.1 L1502.6,256.1 L1505.6,256.1 L1508.7,256.1 L1511.7,256.1 L1514.7,256.1 L1517.7,256.2 L1520.7,256.2 L1523.7,256.2 L1526.7,256.2 L1529.7,256.2 L1532.8,256.2 L1535.8,256.2 L1538.8,256.3 L1541.8,256.3 L1544.8,256.3 L1547.8,256.3 L1550.8,256.3 L1553.8,256.3 L1556.9,256.3 L1559.9,256.4 L1562.9,256.4 L1565.9,256.4 L1568.9,256.4 L1571.9,256.4 L1574.9,256.4 L1577.9,256.4 L1581.0,256.4 L1584.0,256.4 L1587.0,256.4 L1590.0,256.4" fill="none" stroke="#00F0F2" stroke-width="8.5" stroke-linecap="round" stroke-linejoin="round"/>
<path d="M543.5,478.0 L546.0,345.0" stroke="#FF00FF" stroke-width="6.0" stroke-linecap="round" stroke-dasharray="0 9.5"/>
<path d="M543.5,484.0 L544.0,445.0" stroke="#0000FF" stroke-width="6.5" stroke-linecap="round" stroke-dasharray="0 8.0"/>
<circle cx="545.3" cy="262.9" r="4.2" fill="#00F0F2"/>
<circle cx="544.8" cy="275.7" r="4.2" fill="#00F0F2"/>
<circle cx="544.2" cy="300.0" r="4.2" fill="#00F0F2"/>
<circle cx="543.3" cy="337.0" r="4.2" fill="#00F0F2"/>
<circle cx="542.6" cy="392.9" r="4.2" fill="#00F0F2"/>
<circle cx="541.8" cy="454.3" r="4.2" fill="#00F0F2"/>
<text transform="translate(361.93,139.70) scale(0.9450,1)" font-size="52.50">250</text>
<text transform="translate(361.93,213.00) scale(0.9450,1)" font-size="52.50">200</text>
<text transform="translate(361.93,284.60) scale(0.9450,1)" font-size="52.50">150</text>
<text transform="translate(361.93,357.60) scale(0.9450,1)" font-size="52.50">100</text>
<text transform="translate(389.59,430.50) scale(0.9450,1)" font-size="52.50">50</text>
<text transform="translate(417.13,502.10) scale(0.9450,1)" font-size="52.50">0</text>
<text transform="translate(372.97,575.10) scale(0.9450,1)" font-size="52.50">-50</text>
<text transform="translate(527.65,615.60) scale(1.0252,1)" font-size="52.50">0</text>
<text transform="translate(744.04,615.60) scale(0.9741,1)" font-size="52.50">200</text>
<text transform="translate(1002.59,615.60) scale(0.9396,1)" font-size="52.50">400</text>
<text transform="translate(1256.89,615.60) scale(0.9572,1)" font-size="52.50">600</text>
<text transform="translate(1513.74,615.60) scale(0.9695,1)" font-size="52.50">800</text>
<text transform="translate(1745.84,615.60) scale(0.9289,1)" font-size="52.50">1000</text>
<g class="k">
<text transform="translate(45.47,84.80) scale(0.9859,1)" font-size="74.18" font-weight="bold">A</text>
<text transform="translate(1299.91,164.00) scale(0.9774,1)" font-size="61.20" font-weight="bold">m336</text>
<text transform="translate(1461.13,164.00) scale(0.9658,1)" font-size="61.20" font-weight="bold">scFv</text>
<text transform="translate(288.26,250.66) rotate(-90) scale(0.9276,1)" font-size="58.02" font-weight="bold">(RU)</text>
<text transform="translate(288.04,537.69) rotate(-90) scale(0.9681,1)" font-size="59.55" font-weight="bold">Response</text>
</g>
<text transform="translate(1678.00,296.70) scale(1.0148,1)" font-size="52.50">K</text>
<text transform="translate(1711.52,305.80) scale(0.8130,1)" font-size="35.50" stroke="#363636" stroke-width="0.7">D</text>
<text transform="translate(1748.55,296.70) scale(0.8954,1)" font-size="52.50">=</text>
<text transform="translate(1790.27,296.70) scale(0.8630,1)" font-size="52.50">8.1</text>
<text transform="translate(1869.70,295.30) scale(1.0041,1)" font-size="47.00" stroke="#363636" stroke-width="1.3">×</text>
<text transform="translate(1912.29,296.70) scale(0.9166,1)" font-size="52.50">10</text>
<text transform="translate(1966.65,281.60) scale(0.9055,1)" font-size="35.50" stroke="#363636" stroke-width="0.7">-10</text>
<text transform="translate(2018.54,296.70) scale(0.9845,1)" font-size="52.50">M</text>
<text transform="translate(1680.17,354.00) scale(0.9269,1)" font-size="51.00" font-style="italic">k</text>
<text transform="translate(1705.18,363.00) scale(0.8839,1)" font-size="35.50" font-style="italic" stroke="#363636" stroke-width="0.7">on</text>
<text transform="translate(1751.44,354.20) scale(0.9386,1)" font-size="52.50">=</text>
<text transform="translate(1793.60,354.20) scale(0.9354,1)" font-size="52.50">4.7</text>
<text transform="translate(1876.01,352.80)" font-size="47.00" stroke="#363636" stroke-width="1.3">×</text>
<text transform="translate(1917.51,354.20) scale(0.9108,1)" font-size="52.50">10</text>
<text transform="translate(1972.46,339.00) scale(0.9429,1)" font-size="35.50" stroke="#363636" stroke-width="0.7">5</text>
<text transform="translate(1999.18,354.20) scale(1.0216,1)" font-size="52.50">M</text>
<text transform="translate(2039.93,339.00) scale(0.9177,1)" font-size="35.50" stroke="#363636" stroke-width="0.7">-1</text>
<text transform="translate(2069.86,354.20) scale(0.9970,1)" font-size="52.50">s</text>
<text transform="translate(2093.74,339.00) scale(0.9142,1)" font-size="35.50" stroke="#363636" stroke-width="0.7">-1</text>
<text transform="translate(1680.17,411.30) scale(0.9269,1)" font-size="51.00" font-style="italic">k</text>
<text transform="translate(1705.16,420.20) scale(0.8995,1)" font-size="35.50" font-style="italic" stroke="#363636" stroke-width="0.7">off</text>
<text transform="translate(1751.44,411.60) scale(0.9386,1)" font-size="52.50">=</text>
<text transform="translate(1793.88,411.60) scale(0.9262,1)" font-size="52.50">3.8</text>
<text transform="translate(1876.01,410.20)" font-size="47.00" stroke="#363636" stroke-width="1.3">×</text>
<text transform="translate(1918.48,411.60) scale(0.8937,1)" font-size="52.50">10</text>
<text transform="translate(1972.32,397.00) scale(0.9263,1)" font-size="35.50" stroke="#363636" stroke-width="0.7">-4</text>
<text transform="translate(2010.22,411.60) scale(0.9535,1)" font-size="52.50">s</text>
<text transform="translate(2034.04,397.00) scale(0.9142,1)" font-size="35.50" stroke="#363636" stroke-width="0.7">-1</text>
</g>
<g id="panelB">
<path d="M478.0,656.5 V1181.2" stroke="#000" stroke-width="7"/>
<path d="M475.0,1179.2 H1815.0" stroke="#1a1a1a" stroke-width="4.8"/>
<path d="M478.0,659.3 H494.0" stroke="#1e1e1e" stroke-width="4.6"/>
<path d="M478.0,733.2 H494.0" stroke="#1e1e1e" stroke-width="4.6"/>
<path d="M478.0,807.5 H494.0" stroke="#1e1e1e" stroke-width="4.6"/>
<path d="M478.0,881.7 H494.0" stroke="#1e1e1e" stroke-width="4.6"/>
<path d="M478.0,956.2 H494.0" stroke="#1e1e1e" stroke-width="4.6"/>
<path d="M478.0,1031.0 H494.0" stroke="#1e1e1e" stroke-width="4.6"/>
<path d="M478.0,1105.3 H494.0" stroke="#1e1e1e" stroke-width="4.6"/>
<rect x="541.0" y="1171.7" width="6.5" height="8" rx="3" fill="#000"/>
<rect x="793.2" y="1171.7" width="6.5" height="8" rx="3" fill="#000"/>
<rect x="1046.8" y="1171.7" width="6.5" height="8" rx="3" fill="#000"/>
<rect x="1301.8" y="1171.7" width="6.5" height="8" rx="3" fill="#000"/>
<rect x="1555.2" y="1171.7" width="6.5" height="8" rx="3" fill="#000"/>
<rect x="1808.8" y="1171.7" width="6.5" height="8" rx="3" fill="#000"/>
<path d="M475.0,1106.0 L547.0,1105.5" stroke="#00F0F2" stroke-width="9.0" stroke-linecap="round"/>
<path d="M545.5,1105.5 L549.0,790.0" stroke="#3c3c3c" stroke-width="4.6"/>
<path d="M549.0,1104.0 L551.6,1102.5 L554.3,1101.0 L556.9,1099.7 L559.6,1098.3 L562.3,1097.0 L565.1,1095.7 L567.8,1094.4 L570.5,1093.2 L573.3,1091.9 L576.0,1090.7 L578.8,1089.5 L581.6,1088.3 L584.4,1087.1 L587.1,1085.9 L589.9,1084.7 L592.7,1083.6 L595.5,1082.4 L598.2,1081.2 L601.0,1080.1 L603.8,1078.9 L606.6,1077.8 L609.4,1076.6 L612.2,1075.5 L615.0,1074.4 L617.8,1073.3 L620.6,1072.2 L623.4,1071.1 L626.2,1070.0 L629.0,1068.8 L631.8,1067.7 L634.6,1066.6 L637.4,1065.5 L640.2,1064.4 L643.0,1063.3 L645.8,1062.1 L648.6,1061.0 L651.4,1059.8 L654.2,1058.7 L657.0,1057.5 L659.8,1056.4 L662.6,1055.2 L665.4,1054.1 L668.2,1053.0 L671.0,1051.9 L673.8,1050.8 L676.6,1049.7 L679.4,1048.7 L682.3,1047.7 L685.1,1046.6 L687.9,1045.5 L690.8,1044.4 L693.6,1043.2 L696.5,1042.0 L699.3,1040.8 L702.2,1039.6 L705.0,1038.4 L707.9,1037.3 L710.8,1036.3 L713.7,1035.3 L716.6,1034.4 L719.5,1033.6 L722.4,1033.0 L725.3,1032.5 L728.2,1032.1 L731.2,1031.9 L734.1,1031.9 L737.1,1032.1 L740.1,1032.4 L743.1,1032.8 L746.2,1033.1 L749.1,1033.5 L752.1,1033.8 L755.1,1034.2 L758.1,1034.6 L761.1,1035.1 L764.1,1035.5 L767.1,1035.8 L770.1,1036.2 L773.1,1036.6 L776.0,1037.0 L779.0,1037.3 L782.0,1037.6 L785.0,1038.0 L788.0,1038.3 L791.0,1038.6 L794.0,1038.9 L797.0,1039.2 L800.0,1039.4 L803.0,1039.7 L806.0,1040.0 L809.0,1040.3 L812.0,1040.5 L815.0,1040.7 L818.1,1041.0 L821.1,1041.2 L824.1,1041.4 L827.1,1041.6 L830.1,1041.8 L833.1,1041.9 L836.1,1042.1 L839.1,1042.3 L842.1,1042.4 L845.1,1042.6 L848.2,1042.7 L851.2,1042.8 L854.2,1042.9 L857.2,1043.1 L860.2,1043.2 L863.2,1043.3 L866.3,1043.4 L869.3,1043.4 L872.3,1043.5 L875.3,1043.6 L878.3,1043.7 L881.3,1043.7 L884.3,1043.8 L887.4,1043.9 L890.4,1043.9 L893.4,1044.0 L896.4,1044.1 L899.4,1044.1 L902.4,1044.2 L905.4,1044.2 L908.5,1044.3 L911.5,1044.3 L914.5,1044.4 L917.5,1044.4 L920.5,1044.4 L923.5,1044.5 L926.5,1044.5 L929.6,1044.6 L932.6,1044.6 L935.6,1044.7 L938.6,1044.7 L941.6,1044.7 L944.6,1044.8 L947.7,1044.8 L950.7,1044.8 L953.7,1044.9 L956.7,1044.9 L959.7,1044.9 L962.7,1045.0 L965.7,1045.0 L968.8,1045.0 L971.8,1045.1 L974.8,1045.1 L977.8,1045.1 L980.8,1045.1 L983.8,1045.2 L986.9,1045.2 L989.9,1045.2 L992.9,1045.3 L995.9,1045.3 L998.9,1045.3 L1001.9,1045.3 L1005.0,1045.4 L1008.0,1045.4 L1011.0,1045.4 L1014.0,1045.4 L1017.0,1045.5 L1020.0,1045.5 L1023.1,1045.5 L1026.1,1045.5 L1029.1,1045.5 L1032.1,1045.6 L1035.1,1045.6 L1038.1,1045.6 L1041.1,1045.6 L1044.2,1045.7 L1047.2,1045.7 L1050.2,1045.7 L1053.2,1045.7 L1056.2,1045.7 L1059.2,1045.8 L1062.3,1045.8 L1065.3,1045.8 L1068.3,1045.8 L1071.3,1045.8 L1074.3,1045.9 L1077.3,1045.9 L1080.4,1045.9 L1083.4,1045.9 L1086.4,1045.9 L1089.4,1046.0 L1092.4,1046.0 L1095.4,1046.0 L1098.4,1046.0 L1101.5,1046.0 L1104.5,1046.1 L1107.5,1046.1 L1110.5,1046.1 L1113.5,1046.1 L1116.5,1046.1 L1119.6,1046.2 L1122.6,1046.2 L1125.6,1046.2 L1128.6,1046.2 L1131.6,1046.2 L1134.6,1046.3 L1137.6,1046.3 L1140.7,1046.3 L1143.7,1046.3 L1146.7,1046.3 L1149.7,1046.3 L1152.7,1046.4 L1155.7,1046.4 L1158.8,1046.4 L1161.8,1046.4 L1164.8,1046.4 L1167.8,1046.4 L1170.8,1046.4 L1173.8,1046.5 L1176.9,1046.5 L1179.9,1046.5 L1182.9,1046.5 L1185.9,1046.5 L1188.9,1046.5 L1191.9,1046.5 L1194.9,1046.6 L1198.0,1046.6 L1201.0,1046.6 L1204.0,1046.6 L1207.0,1046.6 L1210.0,1046.6 L1213.0,1046.6 L1216.1,1046.6 L1219.1,1046.6 L1222.1,1046.6 L1225.1,1046.6 L1228.1,1046.7 L1231.1,1046.7 L1234.1,1046.7 L1237.2,1046.7 L1240.2,1046.7 L1243.2,1046.7 L1246.2,1046.7 L1249.2,1046.7 L1252.2,1046.7 L1255.3,1046.7 L1258.3,1046.7 L1261.3,1046.7 L1264.3,1046.7 L1267.3,1046.7 L1270.3,1046.7 L1273.4,1046.7 L1276.4,1046.7 L1279.4,1046.7 L1282.4,1046.7 L1285.4,1046.7 L1288.4,1046.7 L1291.4,1046.7 L1294.5,1046.7 L1297.5,1046.7 L1300.5,1046.7 L1303.5,1046.7 L1306.5,1046.7 L1309.5,1046.7 L1312.6,1046.7 L1315.6,1046.7 L1318.6,1046.7 L1321.6,1046.7 L1324.6,1046.7 L1327.6,1046.7 L1330.7,1046.7 L1333.7,1046.7 L1336.7,1046.7 L1339.7,1046.7 L1342.7,1046.7 L1345.7,1046.7 L1348.7,1046.7 L1351.8,1046.7 L1354.8,1046.7 L1357.8,1046.7 L1360.8,1046.7 L1363.8,1046.7 L1366.8,1046.7 L1369.9,1046.7 L1372.9,1046.7 L1375.9,1046.7 L1378.9,1046.7 L1381.9,1046.7 L1384.9,1046.7 L1387.9,1046.7 L1391.0,1046.7 L1394.0,1046.7 L1397.0,1046.7 L1400.0,1046.7 L1403.0,1046.7 L1406.0,1046.7 L1409.1,1046.7 L1412.1,1046.7 L1415.1,1046.7 L1418.1,1046.7 L1421.1,1046.7 L1424.1,1046.7 L1427.2,1046.7 L1430.2,1046.7 L1433.2,1046.7 L1436.2,1046.7 L1439.2,1046.7 L1442.2,1046.7 L1445.2,1046.7 L1448.3,1046.7 L1451.3,1046.7 L1454.3,1046.7 L1457.3,1046.7 L1460.3,1046.7 L1463.3,1046.7 L1466.4,1046.7 L1469.4,1046.7 L1472.4,1046.7 L1475.4,1046.7 L1478.4,1046.7 L1481.4,1046.7 L1484.5,1046.7 L1487.5,1046.7 L1490.5,1046.7 L1493.5,1046.7 L1496.5,1046.7 L1499.5,1046.7 L1502.5,1046.7 L1505.6,1046.7 L1508.6,1046.7 L1511.6,1046.7 L1514.6,1046.7 L1517.6,1046.7 L1520.6,1046.7 L1523.7,1046.7 L1526.7,1046.7 L1529.7,1046.7 L1532.7,1046.7 L1535.7,1046.7 L1538.7,1046.7 L1541.7,1046.7 L1544.8,1046.7 L1547.8,1046.7 L1550.8,1046.7 L1553.8,1046.7 L1556.8,1046.7 L1559.8,1046.7 L1562.9,1046.7 L1565.9,1046.7 L1568.9,1046.7 L1571.9,1046.7 L1574.9,1046.7 L1577.9,1046.7 L1581.0,1046.7 L1584.0,1046.7 L1587.0,1046.7 L1590.0,1046.7" fill="none" stroke="#800080" stroke-width="7.5" stroke-linecap="round" stroke-linejoin="round"/>
<path d="M549.0,1104.0 L550.6,1101.5 L552.3,1099.0 L554.1,1096.5 L555.8,1094.1 L557.6,1091.7 L559.4,1089.3 L561.3,1086.9 L563.1,1084.5 L565.0,1082.1 L566.8,1079.7 L568.7,1077.4 L570.7,1075.1 L572.6,1072.8 L574.6,1070.5 L576.5,1068.3 L578.5,1066.0 L580.6,1063.8 L582.6,1061.6 L584.7,1059.5 L586.8,1057.3 L588.9,1055.2 L591.1,1053.0 L593.2,1050.9 L595.4,1048.8 L597.6,1046.7 L599.7,1044.7 L601.9,1042.6 L604.1,1040.5 L606.3,1038.5 L608.5,1036.4 L610.7,1034.4 L612.9,1032.3 L615.2,1030.3 L617.4,1028.2 L619.6,1026.2 L621.8,1024.1 L624.1,1022.1 L626.4,1020.1 L628.7,1018.2 L631.0,1016.2 L633.3,1014.4 L635.7,1012.5 L638.1,1010.7 L640.5,1009.0 L642.9,1007.3 L645.4,1005.6 L648.0,1004.0 L650.5,1002.4 L653.1,1000.8 L655.7,999.3 L658.3,997.7 L660.9,996.2 L663.6,994.8 L666.2,993.3 L668.9,991.9 L671.5,990.5 L674.2,989.1 L676.8,987.7 L679.5,986.2 L682.2,984.8 L684.9,983.5 L687.6,982.1 L690.4,980.8 L693.1,979.6 L695.9,978.4 L698.7,977.3 L701.5,976.3 L704.3,975.4 L707.1,974.5 L710.0,973.6 L712.9,972.7 L715.8,971.7 L718.7,970.9 L721.7,970.0 L724.6,969.2 L727.6,968.5 L730.6,967.9 L733.5,967.3 L736.5,966.8 L739.5,966.5 L742.5,966.3 L745.4,966.2 L748.4,966.3 L751.3,966.6 L754.3,967.0 L757.2,967.5 L760.2,968.1 L763.2,968.7 L766.2,969.3 L769.1,969.9 L772.1,970.4 L775.1,970.9 L778.1,971.4 L781.0,971.9 L784.0,972.3 L787.0,972.7 L790.0,973.1 L793.0,973.5 L795.9,973.9 L798.9,974.3 L801.9,974.6 L804.9,975.0 L807.9,975.3 L810.9,975.6 L813.9,975.9 L816.9,976.3 L819.9,976.6 L822.9,976.9 L825.9,977.2 L828.8,977.4 L831.8,977.7 L834.8,978.0 L837.8,978.2 L840.8,978.5 L843.8,978.7 L846.8,978.9 L849.9,979.1 L852.9,979.3 L855.9,979.5 L858.9,979.7 L861.9,979.8 L864.9,980.0 L867.9,980.1 L870.9,980.3 L873.9,980.4 L876.9,980.5 L879.9,980.6 L882.9,980.7 L885.9,980.8 L888.9,980.9 L891.9,981.0 L894.9,981.1 L897.9,981.1 L900.9,981.2 L903.9,981.3 L906.9,981.4 L910.0,981.4 L913.0,981.5 L916.0,981.6 L919.0,981.6 L922.0,981.7 L925.0,981.7 L928.0,981.8 L931.0,981.8 L934.0,981.9 L937.0,981.9 L940.0,982.0 L943.0,982.0 L946.1,982.1 L949.1,982.1 L952.1,982.2 L955.1,982.2 L958.1,982.3 L961.1,982.3 L964.1,982.3 L967.1,982.4 L970.1,982.4 L973.1,982.5 L976.2,982.5 L979.2,982.5 L982.2,982.6 L985.2,982.6 L988.2,982.6 L991.2,982.7 L994.2,982.7 L997.2,982.7 L1000.2,982.8 L1003.2,982.8 L1006.3,982.8 L1009.3,982.9 L1012.3,982.9 L1015.3,982.9 L1018.3,982.9 L1021.3,983.0 L1024.3,983.0 L1027.3,983.0 L1030.3,983.0 L1033.3,983.1 L1036.4,983.1 L1039.4,983.1 L1042.4,983.1 L1045.4,983.2 L1048.4,983.2 L1051.4,983.2 L1054.4,983.2 L1057.4,983.2 L1060.4,983.3 L1063.4,983.3 L1066.4,983.3 L1069.5,983.3 L1072.5,983.4 L1075.5,983.4 L1078.5,983.4 L1081.5,983.4 L1084.5,983.4 L1087.5,983.5 L1090.5,983.5 L1093.5,983.5 L1096.5,983.5 L1099.5,983.5 L1102.5,983.6 L1105.6,983.6 L1108.6,983.6 L1111.6,983.6 L1114.6,983.6 L1117.6,983.7 L1120.6,983.7 L1123.6,983.7 L1126.6,983.7 L1129.6,983.7 L1132.6,983.8 L1135.6,983.8 L1138.7,983.8 L1141.7,983.8 L1144.7,983.8 L1147.7,983.8 L1150.7,983.9 L1153.7,983.9 L1156.7,983.9 L1159.7,983.9 L1162.7,983.9 L1165.7,983.9 L1168.7,984.0 L1171.8,984.0 L1174.8,984.0 L1177.8,984.0 L1180.8,984.0 L1183.8,984.0 L1186.8,984.0 L1189.8,984.0 L1192.8,984.1 L1195.8,984.1 L1198.8,984.1 L1201.8,984.1 L1204.9,984.1 L1207.9,984.1 L1210.9,984.1 L1213.9,984.1 L1216.9,984.1 L1219.9,984.1 L1222.9,984.1 L1225.9,984.1 L1228.9,984.2 L1231.9,984.2 L1234.9,984.2 L1238.0,984.2 L1241.0,984.2 L1244.0,984.2 L1247.0,984.2 L1250.0,984.2 L1253.0,984.2 L1256.0,984.2 L1259.0,984.2 L1262.0,984.2 L1265.0,984.2 L1268.0,984.2 L1271.1,984.2 L1274.1,984.2 L1277.1,984.2 L1280.1,984.2 L1283.1,984.2 L1286.1,984.2 L1289.1,984.2 L1292.1,984.2 L1295.1,984.2 L1298.1,984.2 L1301.1,984.2 L1304.1,984.2 L1307.2,984.2 L1310.2,984.2 L1313.2,984.2 L1316.2,984.2 L1319.2,984.2 L1322.2,984.2 L1325.2,984.2 L1328.2,984.2 L1331.2,984.2 L1334.2,984.2 L1337.2,984.2 L1340.3,984.2 L1343.3,984.2 L1346.3,984.2 L1349.3,984.2 L1352.3,984.2 L1355.3,984.1 L1358.3,984.1 L1361.3,984.1 L1364.3,984.1 L1367.3,984.1 L1370.3,984.1 L1373.4,984.1 L1376.4,984.1 L1379.4,984.1 L1382.4,984.1 L1385.4,984.1 L1388.4,984.1 L1391.4,984.1 L1394.4,984.1 L1397.4,984.1 L1400.4,984.1 L1403.4,984.1 L1406.5,984.1 L1409.5,984.1 L1412.5,984.0 L1415.5,984.0 L1418.5,984.0 L1421.5,984.0 L1424.5,984.0 L1427.5,984.0 L1430.5,984.0 L1433.5,984.0 L1436.5,984.0 L1439.6,984.0 L1442.6,984.0 L1445.6,984.0 L1448.6,983.9 L1451.6,983.9 L1454.6,983.9 L1457.6,983.9 L1460.6,983.9 L1463.6,983.9 L1466.6,983.9 L1469.6,983.9 L1472.7,983.9 L1475.7,983.9 L1478.7,983.8 L1481.7,983.8 L1484.7,983.8 L1487.7,983.8 L1490.7,983.8 L1493.7,983.8 L1496.7,983.8 L1499.7,983.7 L1502.7,983.7 L1505.7,983.7 L1508.8,983.7 L1511.8,983.7 L1514.8,983.7 L1517.8,983.7 L1520.8,983.6 L1523.8,983.6 L1526.8,983.6 L1529.8,983.6 L1532.8,983.6 L1535.8,983.6 L1538.8,983.5 L1541.9,983.5 L1544.9,983.5 L1547.9,983.5 L1550.9,983.5 L1553.9,983.5 L1556.9,983.4 L1559.9,983.4 L1562.9,983.4 L1565.9,983.4 L1568.9,983.4 L1571.9,983.4 L1575.0,983.4 L1578.0,983.4 L1581.0,983.3 L1584.0,983.3 L1587.0,983.3 L1590.0,983.3" fill="none" stroke="#00F000" stroke-width="8.0" stroke-linecap="round" stroke-linejoin="round"/>
<path d="M548.5,1100.0 L549.1,1097.1 L549.7,1094.1 L550.3,1091.2 L550.9,1088.2 L551.4,1085.2 L551.9,1082.3 L552.4,1079.3 L552.8,1076.3 L553.3,1073.3 L553.7,1070.3 L554.2,1067.4 L554.6,1064.4 L555.0,1061.4 L555.5,1058.4 L555.9,1055.4 L556.4,1052.5 L556.9,1049.5 L557.3,1046.5 L557.8,1043.6 L558.4,1040.6 L558.9,1037.6 L559.5,1034.7 L560.1,1031.7 L560.7,1028.8 L561.3,1025.8 L561.9,1022.9 L562.5,1019.9 L563.2,1017.0 L563.9,1014.0 L564.5,1011.1 L565.2,1008.1 L566.0,1005.2 L566.7,1002.3 L567.4,999.4 L568.2,996.5 L569.0,993.6 L569.8,990.7 L570.6,987.8 L571.5,984.9 L572.4,982.0 L573.3,979.2 L574.2,976.3 L575.1,973.4 L576.1,970.5 L577.2,967.7 L578.2,964.8 L579.3,962.0 L580.5,959.2 L581.6,956.4 L582.8,953.6 L584.1,950.9 L585.4,948.3 L586.7,945.6 L588.2,943.0 L589.7,940.4 L591.4,937.9 L593.1,935.4 L594.9,932.9 L596.7,930.5 L598.6,928.1 L600.6,925.8 L602.6,923.6 L604.6,921.5 L606.8,919.4 L609.1,917.3 L611.4,915.3 L613.7,913.4 L616.2,911.6 L618.6,909.9 L621.0,908.2 L623.6,906.6 L626.1,905.0 L628.7,903.5 L631.4,902.0 L634.0,900.5 L636.7,899.1 L639.5,897.7 L642.2,896.4 L645.0,895.2 L647.7,894.0 L650.5,893.0 L653.3,891.9 L656.1,890.8 L658.9,889.7 L661.8,888.7 L664.7,887.7 L667.6,886.8 L670.5,886.0 L673.4,885.2 L676.4,884.5 L679.3,884.0 L682.2,883.6 L685.2,883.2 L688.2,882.8 L691.1,882.5 L694.1,882.2 L697.1,881.9 L700.1,881.6 L703.2,881.3 L706.2,881.1 L709.2,880.9 L712.2,880.7 L715.2,880.6 L718.3,880.5 L721.3,880.4 L724.3,880.4 L727.3,880.4 L730.3,880.4 L733.3,880.4 L736.4,880.4 L739.4,880.4 L742.4,880.5 L745.4,880.7 L748.3,881.1 L751.3,881.6 L754.2,882.2 L757.2,882.8 L760.1,883.5 L763.0,884.2 L765.9,884.9 L768.8,885.5 L771.8,886.2 L774.7,886.8 L777.6,887.4 L780.6,887.9 L783.5,888.5 L786.5,889.0 L789.5,889.5 L792.4,890.0 L795.4,890.5 L798.4,890.9 L801.4,891.4 L804.4,891.8 L807.3,892.2 L810.3,892.6 L813.3,893.0 L816.3,893.3 L819.3,893.6 L822.3,893.9 L825.3,894.2 L828.3,894.5 L831.3,894.8 L834.3,895.0 L837.3,895.3 L840.3,895.5 L843.3,895.7 L846.3,895.9 L849.3,896.1 L852.3,896.3 L855.4,896.5 L858.4,896.7 L861.4,896.8 L864.4,897.0 L867.4,897.2 L870.4,897.3 L873.4,897.5 L876.4,897.6 L879.4,897.7 L882.4,897.9 L885.4,898.0 L888.4,898.2 L891.5,898.3 L894.5,898.4 L897.5,898.5 L900.5,898.7 L903.5,898.8 L906.5,898.9 L909.5,899.0 L912.5,899.1 L915.5,899.3 L918.5,899.4 L921.5,899.5 L924.5,899.6 L927.6,899.7 L930.6,899.8 L933.6,899.9 L936.6,900.0 L939.6,900.1 L942.6,900.2 L945.6,900.3 L948.6,900.4 L951.6,900.5 L954.6,900.6 L957.7,900.7 L960.7,900.8 L963.7,900.9 L966.7,901.0 L969.7,901.1 L972.7,901.2 L975.7,901.3 L978.7,901.3 L981.7,901.4 L984.8,901.5 L987.8,901.6 L990.8,901.6 L993.8,901.7 L996.8,901.8 L999.8,901.9 L1002.8,901.9 L1005.8,902.0 L1008.8,902.0 L1011.9,902.1 L1014.9,902.2 L1017.9,902.2 L1020.9,902.3 L1023.9,902.3 L1026.9,902.4 L1029.9,902.4 L1032.9,902.4 L1035.9,902.5 L1039.0,902.5 L1042.0,902.6 L1045.0,902.6 L1048.0,902.6 L1051.0,902.7 L1054.0,902.7 L1057.0,902.7 L1060.0,902.8 L1063.0,902.8 L1066.1,902.8 L1069.1,902.8 L1072.1,902.9 L1075.1,902.9 L1078.1,902.9 L1081.1,902.9 L1084.1,903.0 L1087.1,903.0 L1090.1,903.0 L1093.1,903.0 L1096.2,903.0 L1099.2,903.1 L1102.2,903.1 L1105.2,903.1 L1108.2,903.1 L1111.2,903.2 L1114.2,903.2 L1117.2,903.2 L1120.2,903.2 L1123.3,903.2 L1126.3,903.2 L1129.3,903.3 L1132.3,903.3 L1135.3,903.3 L1138.3,903.3 L1141.3,903.3 L1144.3,903.4 L1147.4,903.4 L1150.4,903.4 L1153.4,903.4 L1156.4,903.4 L1159.4,903.4 L1162.4,903.4 L1165.4,903.5 L1168.4,903.5 L1171.4,903.5 L1174.5,903.5 L1177.5,903.5 L1180.5,903.5 L1183.5,903.5 L1186.5,903.5 L1189.5,903.6 L1192.5,903.6 L1195.5,903.6 L1198.5,903.6 L1201.6,903.6 L1204.6,903.6 L1207.6,903.6 L1210.6,903.6 L1213.6,903.6 L1216.6,903.6 L1219.6,903.6 L1222.6,903.6 L1225.6,903.7 L1228.7,903.7 L1231.7,903.7 L1234.7,903.7 L1237.7,903.7 L1240.7,903.7 L1243.7,903.7 L1246.7,903.7 L1249.7,903.7 L1252.7,903.7 L1255.8,903.7 L1258.8,903.7 L1261.8,903.7 L1264.8,903.7 L1267.8,903.7 L1270.8,903.7 L1273.8,903.7 L1276.8,903.7 L1279.8,903.7 L1282.9,903.7 L1285.9,903.7 L1288.9,903.7 L1291.9,903.7 L1294.9,903.7 L1297.9,903.7 L1300.9,903.7 L1303.9,903.7 L1307.0,903.7 L1310.0,903.6 L1313.0,903.6 L1316.0,903.6 L1319.0,903.6 L1322.0,903.6 L1325.0,903.6 L1328.0,903.6 L1331.0,903.6 L1334.1,903.6 L1337.1,903.6 L1340.1,903.6 L1343.1,903.6 L1346.1,903.6 L1349.1,903.5 L1352.1,903.5 L1355.1,903.5 L1358.1,903.5 L1361.2,903.5 L1364.2,903.5 L1367.2,903.5 L1370.2,903.5 L1373.2,903.5 L1376.2,903.4 L1379.2,903.4 L1382.2,903.4 L1385.2,903.4 L1388.3,903.4 L1391.3,903.4 L1394.3,903.4 L1397.3,903.3 L1400.3,903.3 L1403.3,903.3 L1406.3,903.3 L1409.3,903.3 L1412.3,903.3 L1415.4,903.2 L1418.4,903.2 L1421.4,903.2 L1424.4,903.2 L1427.4,903.2 L1430.4,903.1 L1433.4,903.1 L1436.4,903.1 L1439.4,903.1 L1442.5,903.1 L1445.5,903.0 L1448.5,903.0 L1451.5,903.0 L1454.5,903.0 L1457.5,903.0 L1460.5,902.9 L1463.5,902.9 L1466.5,902.9 L1469.6,902.9 L1472.6,902.8 L1475.6,902.8 L1478.6,902.8 L1481.6,902.8 L1484.6,902.7 L1487.6,902.7 L1490.6,902.7 L1493.6,902.7 L1496.7,902.6 L1499.7,902.6 L1502.7,902.6 L1505.7,902.5 L1508.7,902.5 L1511.7,902.5 L1514.7,902.5 L1517.7,902.4 L1520.7,902.4 L1523.8,902.4 L1526.8,902.3 L1529.8,902.3 L1532.8,902.3 L1535.8,902.2 L1538.8,902.2 L1541.8,902.2 L1544.8,902.2 L1547.8,902.1 L1550.9,902.1 L1553.9,902.1 L1556.9,902.0 L1559.9,902.0 L1562.9,902.0 L1565.9,902.0 L1568.9,901.9 L1571.9,901.9 L1574.9,901.9 L1578.0,901.9 L1581.0,901.9 L1584.0,901.8 L1587.0,901.8 L1590.0,901.8" fill="none" stroke="#FF0000" stroke-width="7.5" stroke-linecap="round" stroke-linejoin="round"/>
<path d="M548.4,1090.2 L548.5,1087.2 L548.6,1084.2 L548.7,1081.2 L548.9,1078.2 L549.0,1075.2 L549.1,1072.1 L549.2,1069.1 L549.4,1066.1 L549.5,1063.1 L549.7,1060.1 L549.8,1057.1 L550.0,1054.1 L550.2,1051.1 L550.3,1048.1 L550.5,1045.1 L550.7,1042.1 L550.9,1039.1 L551.1,1036.1 L551.2,1033.1 L551.4,1030.1 L551.6,1027.1 L551.8,1024.1 L552.0,1021.1 L552.2,1018.1 L552.4,1015.1 L552.6,1012.1 L552.9,1009.1 L553.1,1006.1 L553.3,1003.1 L553.5,1000.1 L553.7,997.1 L554.0,994.1 L554.2,991.1 L554.4,988.1 L554.6,985.1 L554.9,982.1 L555.1,979.1 L555.3,976.0 L555.5,973.0 L555.8,970.0 L556.0,967.0 L556.2,964.0 L556.5,960.9 L556.7,957.9 L557.0,954.9 L557.2,951.9 L557.5,948.9 L557.8,945.9 L558.1,942.9 L558.4,939.9 L558.8,936.9 L559.1,933.9 L559.5,930.9 L560.0,928.0 L560.4,925.1 L560.9,922.1 L561.4,919.2 L562.0,916.3 L562.7,913.4 L563.6,910.4 L564.5,907.5 L565.5,904.6 L566.7,901.7 L567.8,898.9 L569.1,896.2 L570.4,893.5 L571.7,890.9 L573.2,888.5 L574.9,886.0 L576.8,883.6 L578.9,881.3 L581.0,879.0 L583.3,876.9 L585.5,874.9 L587.8,873.1 L590.1,871.3 L592.6,869.5 L595.2,867.8 L597.8,866.2 L600.5,864.7 L603.2,863.4 L605.9,862.1 L608.6,861.0 L611.4,860.1 L614.2,859.1 L617.1,858.3 L620.0,857.5 L623.0,856.7 L625.9,856.0 L628.9,855.3 L631.8,854.6 L634.8,854.0 L637.8,853.3 L640.7,852.6 L643.6,852.0 L646.6,851.3 L649.5,850.7 L652.4,850.0 L655.4,849.4 L658.3,848.8 L661.3,848.2 L664.2,847.6 L667.2,847.1 L670.2,846.5 L673.1,846.0 L676.1,845.4 L679.0,844.9 L682.0,844.4 L685.0,843.9 L687.9,843.4 L690.9,843.0 L693.9,842.5 L696.9,842.1 L699.9,841.7 L702.8,841.3 L705.8,840.9 L708.8,840.4 L711.8,840.0 L714.8,839.6 L717.7,839.1 L720.7,838.7 L723.7,838.2 L726.6,837.6 L729.6,836.9 L732.6,836.2 L735.6,835.5 L738.5,835.1 L741.4,834.9 L744.2,835.2 L747.0,836.1 L749.8,837.4 L752.5,838.8 L755.3,840.2 L758.0,841.5 L760.8,842.7 L763.6,843.7 L766.4,844.7 L769.3,845.5 L772.2,846.3 L775.1,846.9 L778.0,847.6 L781.0,848.2 L783.9,848.7 L786.9,849.3 L789.9,849.7 L792.9,850.2 L795.9,850.6 L798.9,851.0 L801.9,851.4 L804.9,851.8 L807.9,852.2 L810.9,852.5 L813.8,852.9 L816.8,853.2 L819.8,853.5 L822.8,853.8 L825.8,854.1 L828.8,854.4 L831.8,854.6 L834.8,854.8 L837.8,855.1 L840.8,855.3 L843.8,855.5 L846.9,855.7 L849.9,855.9 L852.9,856.1 L855.9,856.2 L858.9,856.4 L861.9,856.6 L864.9,856.7 L867.9,856.9 L870.9,857.0 L873.9,857.2 L876.9,857.3 L879.9,857.5 L882.9,857.6 L885.9,857.7 L888.9,857.9 L891.9,858.0 L895.0,858.1 L898.0,858.2 L901.0,858.3 L904.0,858.5 L907.0,858.6 L910.0,858.7 L913.0,858.8 L916.0,858.9 L919.0,859.0 L922.0,859.1 L925.0,859.2 L928.0,859.3 L931.0,859.4 L934.0,859.5 L937.1,859.6 L940.1,859.7 L943.1,859.8 L946.1,859.9 L949.1,860.0 L952.1,860.1 L955.1,860.2 L958.1,860.3 L961.1,860.4 L964.1,860.5 L967.1,860.6 L970.1,860.6 L973.2,860.7 L976.2,860.8 L979.2,860.9 L982.2,861.0 L985.2,861.0 L988.2,861.1 L991.2,861.2 L994.2,861.3 L997.2,861.3 L1000.2,861.4 L1003.2,861.5 L1006.3,861.5 L1009.3,861.6 L1012.3,861.7 L1015.3,861.7 L1018.3,861.8 L1021.3,861.9 L1024.3,861.9 L1027.3,862.0 L1030.3,862.0 L1033.3,862.1 L1036.3,862.1 L1039.3,862.2 L1042.4,862.2 L1045.4,862.3 L1048.4,862.3 L1051.4,862.4 L1054.4,862.4 L1057.4,862.5 L1060.4,862.5 L1063.4,862.6 L1066.4,862.6 L1069.4,862.7 L1072.4,862.7 L1075.5,862.8 L1078.5,862.8 L1081.5,862.9 L1084.5,862.9 L1087.5,862.9 L1090.5,863.0 L1093.5,863.0 L1096.5,863.1 L1099.5,863.1 L1102.5,863.2 L1105.5,863.2 L1108.5,863.2 L1111.6,863.3 L1114.6,863.3 L1117.6,863.4 L1120.6,863.4 L1123.6,863.4 L1126.6,863.5 L1129.6,863.5 L1132.6,863.6 L1135.6,863.6 L1138.6,863.6 L1141.6,863.7 L1144.7,863.7 L1147.7,863.7 L1150.7,863.8 L1153.7,863.8 L1156.7,863.8 L1159.7,863.9 L1162.7,863.9 L1165.7,863.9 L1168.7,864.0 L1171.7,864.0 L1174.7,864.0 L1177.8,864.1 L1180.8,864.1 L1183.8,864.1 L1186.8,864.1 L1189.8,864.2 L1192.8,864.2 L1195.8,864.2 L1198.8,864.2 L1201.8,864.3 L1204.8,864.3 L1207.8,864.3 L1210.9,864.3 L1213.9,864.3 L1216.9,864.3 L1219.9,864.4 L1222.9,864.4 L1225.9,864.4 L1228.9,864.4 L1231.9,864.4 L1234.9,864.4 L1237.9,864.4 L1240.9,864.4 L1244.0,864.5 L1247.0,864.5 L1250.0,864.5 L1253.0,864.5 L1256.0,864.5 L1259.0,864.5 L1262.0,864.5 L1265.0,864.5 L1268.0,864.5 L1271.0,864.5 L1274.0,864.5 L1277.1,864.5 L1280.1,864.5 L1283.1,864.5 L1286.1,864.5 L1289.1,864.5 L1292.1,864.5 L1295.1,864.5 L1298.1,864.5 L1301.1,864.5 L1304.1,864.5 L1307.1,864.5 L1310.2,864.5 L1313.2,864.5 L1316.2,864.5 L1319.2,864.5 L1322.2,864.5 L1325.2,864.5 L1328.2,864.5 L1331.2,864.5 L1334.2,864.5 L1337.2,864.5 L1340.2,864.5 L1343.3,864.5 L1346.3,864.5 L1349.3,864.5 L1352.3,864.5 L1355.3,864.5 L1358.3,864.5 L1361.3,864.4 L1364.3,864.4 L1367.3,864.4 L1370.3,864.4 L1373.3,864.4 L1376.4,864.4 L1379.4,864.4 L1382.4,864.4 L1385.4,864.4 L1388.4,864.4 L1391.4,864.4 L1394.4,864.4 L1397.4,864.4 L1400.4,864.4 L1403.4,864.4 L1406.4,864.4 L1409.5,864.3 L1412.5,864.3 L1415.5,864.3 L1418.5,864.3 L1421.5,864.3 L1424.5,864.3 L1427.5,864.3 L1430.5,864.3 L1433.5,864.3 L1436.5,864.3 L1439.5,864.2 L1442.6,864.2 L1445.6,864.2 L1448.6,864.2 L1451.6,864.2 L1454.6,864.2 L1457.6,864.2 L1460.6,864.1 L1463.6,864.1 L1466.6,864.1 L1469.6,864.1 L1472.6,864.1 L1475.7,864.1 L1478.7,864.0 L1481.7,864.0 L1484.7,864.0 L1487.7,864.0 L1490.7,864.0 L1493.7,863.9 L1496.7,863.9 L1499.7,863.9 L1502.7,863.9 L1505.7,863.9 L1508.8,863.8 L1511.8,863.8 L1514.8,863.8 L1517.8,863.8 L1520.8,863.7 L1523.8,863.7 L1526.8,863.7 L1529.8,863.7 L1532.8,863.6 L1535.8,863.6 L1538.8,863.6 L1541.9,863.6 L1544.9,863.5 L1547.9,863.5 L1550.9,863.5 L1553.9,863.4 L1556.9,863.4 L1559.9,863.4 L1562.9,863.4 L1565.9,863.3 L1568.9,863.3 L1571.9,863.3 L1575.0,863.3 L1578.0,863.3 L1581.0,863.3 L1584.0,863.2 L1587.0,863.2 L1590.0,863.2" fill="none" stroke="#0000FF" stroke-width="8.0" stroke-linecap="round" stroke-linejoin="round"/>
<path d="M549.5,900.0 L549.6,897.0 L549.7,894.0 L549.8,891.0 L550.0,888.0 L550.1,884.9 L550.3,881.9 L550.5,878.9 L550.6,875.9 L550.8,872.9 L551.0,869.9 L551.2,866.8 L551.5,863.8 L551.7,860.8 L552.0,857.7 L552.2,854.7 L552.5,851.7 L552.9,848.7 L553.2,845.7 L553.6,842.8 L554.1,839.8 L554.5,836.9 L555.1,834.0 L555.9,831.0 L556.8,828.1 L558.0,825.2 L559.2,822.4 L560.6,819.8 L562.1,817.4 L564.0,815.1 L566.2,812.9 L568.6,810.9 L570.9,809.0 L573.3,807.2 L575.8,805.5 L578.4,803.9 L581.1,802.4 L583.8,801.1 L586.5,799.9 L589.3,798.8 L592.2,797.9 L595.0,797.0 L598.0,796.2 L600.9,795.4 L603.8,794.7 L606.8,793.9 L609.7,793.0 L612.6,792.2 L615.5,791.4 L618.4,790.5 L621.3,789.7 L624.2,788.9 L627.1,788.1 L630.0,787.4 L632.9,786.6 L635.8,785.9 L638.8,785.3 L641.7,784.6 L644.7,784.0 L647.6,783.4 L650.6,782.9 L653.5,782.3 L656.5,781.8 L659.5,781.3 L662.5,780.7 L665.4,780.2 L668.4,779.8 L671.4,779.3 L674.4,778.8 L677.3,778.4 L680.3,777.9 L683.3,777.5 L686.3,777.1 L689.3,776.7 L692.3,776.3 L695.2,775.9 L698.2,775.5 L701.2,775.1 L704.2,774.8 L707.2,774.4 L710.2,774.0 L713.2,773.7 L716.2,773.3 L719.2,773.0 L722.2,772.6 L725.2,772.3 L728.2,771.9 L731.2,771.4 L734.2,771.0 L737.2,770.7 L740.2,770.4 L743.1,770.3 L746.1,770.5 L749.0,771.2 L751.8,772.1 L754.7,773.2 L757.5,774.3 L760.4,775.4 L763.2,776.3 L766.1,777.2 L769.0,778.0 L771.9,778.8 L774.9,779.6 L777.8,780.3 L780.7,781.0 L783.7,781.7 L786.6,782.4 L789.6,783.0 L792.5,783.7 L795.5,784.3 L798.4,784.9 L801.3,785.5 L804.3,786.1 L807.2,786.6 L810.2,787.2 L813.1,787.8 L816.1,788.3 L819.0,788.8 L822.0,789.3 L825.0,789.7 L827.9,790.2 L830.9,790.6 L833.9,791.0 L836.9,791.4 L839.9,791.7 L842.9,792.1 L845.9,792.4 L848.9,792.7 L851.9,793.0 L854.9,793.3 L857.9,793.6 L861.0,793.8 L864.0,794.1 L867.0,794.3 L870.0,794.6 L873.0,794.8 L876.0,795.1 L879.0,795.3 L882.0,795.6 L885.0,795.8 L888.0,796.0 L891.0,796.3 L894.0,796.5 L897.0,796.8 L900.0,797.0 L903.0,797.2 L906.0,797.5 L909.0,797.7 L912.1,797.9 L915.1,798.1 L918.1,798.3 L921.1,798.5 L924.1,798.7 L927.1,798.8 L930.1,799.0 L933.1,799.1 L936.1,799.3 L939.1,799.4 L942.1,799.5 L945.1,799.6 L948.1,799.7 L951.1,799.8 L954.2,799.9 L957.2,800.0 L960.2,800.1 L963.2,800.1 L966.2,800.2 L969.2,800.3 L972.2,800.3 L975.2,800.4 L978.3,800.4 L981.3,800.5 L984.3,800.5 L987.3,800.5 L990.3,800.6 L993.3,800.6 L996.3,800.6 L999.4,800.7 L1002.4,800.7 L1005.4,800.7 L1008.4,800.8 L1011.4,800.8 L1014.4,800.8 L1017.4,800.8 L1020.5,800.9 L1023.5,800.9 L1026.5,800.9 L1029.5,800.9 L1032.5,800.9 L1035.5,800.9 L1038.5,800.9 L1041.6,800.9 L1044.6,801.0 L1047.6,801.0 L1050.6,801.0 L1053.6,801.0 L1056.6,801.0 L1059.6,801.0 L1062.6,801.0 L1065.7,801.0 L1068.7,801.0 L1071.7,801.0 L1074.7,801.0 L1077.7,801.0 L1080.7,801.0 L1083.7,801.0 L1086.8,801.0 L1089.8,801.0 L1092.8,801.0 L1095.8,800.9 L1098.8,800.9 L1101.8,800.9 L1104.8,800.9 L1107.8,800.9 L1110.9,800.9 L1113.9,800.9 L1116.9,800.9 L1119.9,800.9 L1122.9,800.9 L1125.9,800.9 L1128.9,800.9 L1132.0,800.9 L1135.0,800.9 L1138.0,800.8 L1141.0,800.8 L1144.0,800.8 L1147.0,800.8 L1150.0,800.8 L1153.1,800.8 L1156.1,800.8 L1159.1,800.8 L1162.1,800.8 L1165.1,800.8 L1168.1,800.8 L1171.1,800.7 L1174.1,800.7 L1177.2,800.7 L1180.2,800.7 L1183.2,800.7 L1186.2,800.7 L1189.2,800.7 L1192.2,800.7 L1195.2,800.7 L1198.3,800.7 L1201.3,800.7 L1204.3,800.6 L1207.3,800.6 L1210.3,800.6 L1213.3,800.6 L1216.3,800.6 L1219.3,800.6 L1222.4,800.6 L1225.4,800.6 L1228.4,800.6 L1231.4,800.6 L1234.4,800.6 L1237.4,800.6 L1240.4,800.5 L1243.5,800.5 L1246.5,800.5 L1249.5,800.5 L1252.5,800.5 L1255.5,800.5 L1258.5,800.5 L1261.5,800.5 L1264.5,800.5 L1267.6,800.5 L1270.6,800.5 L1273.6,800.5 L1276.6,800.5 L1279.6,800.5 L1282.6,800.5 L1285.6,800.5 L1288.7,800.4 L1291.7,800.4 L1294.7,800.4 L1297.7,800.4 L1300.7,800.4 L1303.7,800.4 L1306.7,800.4 L1309.7,800.4 L1312.8,800.4 L1315.8,800.4 L1318.8,800.4 L1321.8,800.4 L1324.8,800.4 L1327.8,800.4 L1330.8,800.4 L1333.9,800.4 L1336.9,800.4 L1339.9,800.4 L1342.9,800.3 L1345.9,800.3 L1348.9,800.3 L1351.9,800.3 L1355.0,800.3 L1358.0,800.3 L1361.0,800.3 L1364.0,800.3 L1367.0,800.3 L1370.0,800.3 L1373.0,800.3 L1376.0,800.3 L1379.1,800.3 L1382.1,800.3 L1385.1,800.3 L1388.1,800.3 L1391.1,800.3 L1394.1,800.3 L1397.1,800.3 L1400.2,800.3 L1403.2,800.2 L1406.2,800.2 L1409.2,800.2 L1412.2,800.2 L1415.2,800.2 L1418.2,800.2 L1421.2,800.2 L1424.3,800.2 L1427.3,800.2 L1430.3,800.2 L1433.3,800.2 L1436.3,800.2 L1439.3,800.2 L1442.3,800.2 L1445.4,800.2 L1448.4,800.2 L1451.4,800.2 L1454.4,800.2 L1457.4,800.2 L1460.4,800.2 L1463.4,800.2 L1466.4,800.2 L1469.5,800.1 L1472.5,800.1 L1475.5,800.1 L1478.5,800.1 L1481.5,800.1 L1484.5,800.1 L1487.5,800.1 L1490.6,800.1 L1493.6,800.1 L1496.6,800.1 L1499.6,800.1 L1502.6,800.1 L1505.6,800.1 L1508.6,800.1 L1511.7,800.1 L1514.7,800.1 L1517.7,800.1 L1520.7,800.1 L1523.7,800.1 L1526.7,800.1 L1529.7,800.1 L1532.7,800.1 L1535.8,800.1 L1538.8,800.1 L1541.8,800.1 L1544.8,800.1 L1547.8,800.0 L1550.8,800.0 L1553.8,800.0 L1556.9,800.0 L1559.9,800.0 L1562.9,800.0 L1565.9,800.0 L1568.9,800.0 L1571.9,800.0 L1574.9,800.0 L1577.9,800.0 L1581.0,800.0 L1584.0,800.0 L1587.0,800.0 L1590.0,800.0" fill="none" stroke="#FF00FF" stroke-width="7.5" stroke-linecap="round" stroke-linejoin="round"/>
<path d="M548.4,795.7 L549.1,792.6 L550.2,789.6 L551.5,787.0 L552.9,784.6 L554.8,782.5 L557.2,780.5 L559.8,778.6 L562.5,777.0 L565.2,775.7 L567.8,774.5 L570.6,773.4 L573.5,772.5 L576.4,771.6 L579.4,770.8 L582.4,770.1 L585.3,769.4 L588.3,768.9 L591.2,768.4 L594.2,767.9 L597.2,767.5 L600.2,767.1 L603.2,766.8 L606.2,766.4 L609.2,766.1 L612.2,765.7 L615.2,765.4 L618.2,765.0 L621.2,764.6 L624.1,764.2 L627.1,763.8 L630.1,763.4 L633.1,763.0 L636.1,762.6 L639.1,762.2 L642.1,761.8 L645.1,761.4 L648.1,761.1 L651.0,760.7 L654.0,760.4 L657.0,760.1 L660.0,759.8 L663.0,759.5 L666.0,759.2 L669.0,759.0 L672.0,758.8 L675.0,758.5 L678.0,758.3 L681.0,758.1 L684.1,757.9 L687.1,757.7 L690.1,757.5 L693.1,757.3 L696.1,757.1 L699.1,756.8 L702.1,756.6 L705.1,756.3 L708.1,756.0 L711.1,755.6 L714.1,755.2 L717.1,754.8 L720.1,754.4 L723.1,754.0 L726.1,753.7 L729.1,753.5 L732.1,753.3 L735.1,753.3 L738.1,753.5 L741.1,754.0 L744.0,754.7 L746.9,755.6 L749.7,756.7 L752.4,757.8 L755.2,759.0 L757.9,760.1 L760.7,761.2 L763.5,762.2 L766.3,763.2 L769.1,764.2 L772.0,765.1 L774.9,765.9 L777.8,766.7 L780.7,767.5 L783.6,768.3 L786.6,769.0 L789.5,769.7 L792.4,770.3 L795.4,770.9 L798.3,771.6 L801.2,772.2 L804.2,772.8 L807.2,773.4 L810.1,773.9 L813.1,774.5 L816.1,775.0 L819.1,775.5 L822.0,776.0 L825.0,776.4 L828.0,776.9 L831.0,777.3 L834.0,777.7 L837.0,778.1 L840.0,778.4 L843.0,778.8 L846.0,779.1 L849.0,779.4 L852.0,779.7 L855.0,780.0 L858.0,780.3 L861.0,780.5 L864.0,780.7 L867.0,781.0 L870.0,781.2 L873.0,781.4 L876.0,781.6 L879.0,781.8 L882.0,782.0 L885.0,782.1 L888.0,782.3 L891.0,782.5 L894.0,782.6 L897.1,782.8 L900.1,782.9 L903.1,783.1 L906.1,783.2 L909.1,783.3 L912.1,783.5 L915.1,783.6 L918.1,783.7 L921.1,783.8 L924.1,784.0 L927.1,784.1 L930.2,784.2 L933.2,784.3 L936.2,784.4 L939.2,784.6 L942.2,784.7 L945.2,784.8 L948.2,784.9 L951.2,785.0 L954.3,785.1 L957.3,785.2 L960.3,785.3 L963.3,785.4 L966.3,785.5 L969.3,785.6 L972.3,785.6 L975.3,785.7 L978.4,785.8 L981.4,785.9 L984.4,786.0 L987.4,786.0 L990.4,786.1 L993.4,786.2 L996.4,786.3 L999.5,786.3 L1002.5,786.4 L1005.5,786.5 L1008.5,786.5 L1011.5,786.6 L1014.5,786.6 L1017.5,786.7 L1020.6,786.7 L1023.6,786.8 L1026.6,786.8 L1029.6,786.9 L1032.6,786.9 L1035.6,787.0 L1038.6,787.0 L1041.6,787.1 L1044.7,787.1 L1047.7,787.1 L1050.7,787.2 L1053.7,787.2 L1056.7,787.2 L1059.7,787.3 L1062.7,787.3 L1065.7,787.3 L1068.8,787.4 L1071.8,787.4 L1074.8,787.4 L1077.8,787.4 L1080.8,787.5 L1083.8,787.5 L1086.8,787.5 L1089.8,787.5 L1092.9,787.6 L1095.9,787.6 L1098.9,787.6 L1101.9,787.6 L1104.9,787.7 L1107.9,787.7 L1110.9,787.7 L1114.0,787.7 L1117.0,787.8 L1120.0,787.8 L1123.0,787.8 L1126.0,787.8 L1129.0,787.8 L1132.0,787.9 L1135.0,787.9 L1138.1,787.9 L1141.1,787.9 L1144.1,787.9 L1147.1,788.0 L1150.1,788.0 L1153.1,788.0 L1156.1,788.0 L1159.1,788.0 L1162.2,788.0 L1165.2,788.1 L1168.2,788.1 L1171.2,788.1 L1174.2,788.1 L1177.2,788.1 L1180.2,788.1 L1183.3,788.1 L1186.3,788.2 L1189.3,788.2 L1192.3,788.2 L1195.3,788.2 L1198.3,788.2 L1201.3,788.2 L1204.3,788.2 L1207.4,788.2 L1210.4,788.2 L1213.4,788.2 L1216.4,788.2 L1219.4,788.3 L1222.4,788.3 L1225.4,788.3 L1228.5,788.3 L1231.5,788.3 L1234.5,788.3 L1237.5,788.3 L1240.5,788.3 L1243.5,788.3 L1246.5,788.3 L1249.5,788.3 L1252.6,788.3 L1255.6,788.3 L1258.6,788.3 L1261.6,788.3 L1264.6,788.3 L1267.6,788.3 L1270.6,788.3 L1273.6,788.3 L1276.7,788.3 L1279.7,788.3 L1282.7,788.3 L1285.7,788.3 L1288.7,788.2 L1291.7,788.2 L1294.7,788.2 L1297.8,788.2 L1300.8,788.2 L1303.8,788.2 L1306.8,788.2 L1309.8,788.2 L1312.8,788.2 L1315.8,788.2 L1318.8,788.2 L1321.9,788.1 L1324.9,788.1 L1327.9,788.1 L1330.9,788.1 L1333.9,788.1 L1336.9,788.1 L1339.9,788.1 L1342.9,788.0 L1346.0,788.0 L1349.0,788.0 L1352.0,788.0 L1355.0,788.0 L1358.0,788.0 L1361.0,787.9 L1364.0,787.9 L1367.0,787.9 L1370.1,787.9 L1373.1,787.9 L1376.1,787.8 L1379.1,787.8 L1382.1,787.8 L1385.1,787.8 L1388.1,787.8 L1391.2,787.7 L1394.2,787.7 L1397.2,787.7 L1400.2,787.7 L1403.2,787.6 L1406.2,787.6 L1409.2,787.6 L1412.2,787.6 L1415.3,787.5 L1418.3,787.5 L1421.3,787.5 L1424.3,787.4 L1427.3,787.4 L1430.3,787.4 L1433.3,787.4 L1436.3,787.3 L1439.4,787.3 L1442.4,787.3 L1445.4,787.2 L1448.4,787.2 L1451.4,787.2 L1454.4,787.1 L1457.4,787.1 L1460.4,787.1 L1463.5,787.0 L1466.5,787.0 L1469.5,787.0 L1472.5,786.9 L1475.5,786.9 L1478.5,786.8 L1481.5,786.8 L1484.6,786.8 L1487.6,786.7 L1490.6,786.7 L1493.6,786.6 L1496.6,786.6 L1499.6,786.6 L1502.6,786.5 L1505.6,786.5 L1508.7,786.4 L1511.7,786.4 L1514.7,786.3 L1517.7,786.3 L1520.7,786.3 L1523.7,786.2 L1526.7,786.2 L1529.7,786.1 L1532.8,786.1 L1535.8,786.0 L1538.8,786.0 L1541.8,785.9 L1544.8,785.9 L1547.8,785.9 L1550.8,785.8 L1553.8,785.8 L1556.9,785.7 L1559.9,785.7 L1562.9,785.7 L1565.9,785.6 L1568.9,785.6 L1571.9,785.6 L1574.9,785.5 L1577.9,785.5 L1581.0,785.5 L1584.0,785.4 L1587.0,785.4 L1590.0,785.4" fill="none" stroke="#00F0F2" stroke-width="8.5" stroke-linecap="round" stroke-linejoin="round"/>
<path d="M547.0,1098.0 L549.5,900.0" stroke="#FF00FF" stroke-width="6.0" stroke-linecap="round" stroke-dasharray="0 9.5"/>
<path d="M547.5,1100.0 L548.4,1090.0" stroke="#0000FF" stroke-width="6.5" stroke-linecap="round" stroke-dasharray="0 8.0"/>
<circle cx="548.2" cy="823.5" r="4.2" fill="#00F0F2"/>
<circle cx="547.6" cy="858.6" r="4.2" fill="#00F0F2"/>
<circle cx="546.5" cy="917.5" r="4.2" fill="#00F0F2"/>
<circle cx="545.6" cy="1013.8" r="4.2" fill="#00F0F2"/>
<circle cx="544.8" cy="1085.0" r="4.2" fill="#00F0F2"/>
<text transform="translate(362.62,688.50) scale(0.9300,1)" font-size="52.50">300</text>
<text transform="translate(362.62,761.20) scale(0.9300,1)" font-size="52.50">250</text>
<text transform="translate(362.62,833.90) scale(0.9300,1)" font-size="52.50">200</text>
<text transform="translate(362.62,906.60) scale(0.9300,1)" font-size="52.50">150</text>
<text transform="translate(362.62,979.40) scale(0.9300,1)" font-size="52.50">100</text>
<text transform="translate(389.84,1052.10) scale(0.9300,1)" font-size="52.50">50</text>
<text transform="translate(416.93,1124.80) scale(0.9300,1)" font-size="52.50">0</text>
<text transform="translate(373.48,1197.50) scale(0.9300,1)" font-size="52.50">-50</text>
<text transform="translate(527.65,1230.60) scale(1.0252,1)" font-size="52.50">0</text>
<text transform="translate(744.04,1230.60) scale(0.9741,1)" font-size="52.50">200</text>
<text transform="translate(1002.59,1230.60) scale(0.9396,1)" font-size="52.50">400</text>
<text transform="translate(1256.89,1230.60) scale(0.9572,1)" font-size="52.50">600</text>
<text transform="translate(1513.74,1230.60) scale(0.9695,1)" font-size="52.50">800</text>
<text transform="translate(1745.84,1230.60) scale(0.9289,1)" font-size="52.50">1000</text>
<g class="k">
<text transform="translate(47.60,703.30) scale(0.9686,1)" font-size="73.45" font-weight="bold">B</text>
<text transform="translate(1185.85,727.20) scale(0.9881,1)" font-size="60.00" font-weight="bold">m336</text>
<text transform="translate(1347.66,727.20) scale(0.9726,1)" font-size="60.00" font-weight="bold">scFv-pep</text>
<text transform="translate(288.26,826.57) rotate(-90) scale(0.9302,1)" font-size="58.02" font-weight="bold">(RU)</text>
<text transform="translate(288.04,1114.40) rotate(-90) scale(0.9708,1)" font-size="59.55" font-weight="bold">Response</text>
</g>
<text transform="translate(1678.00,845.70) scale(1.0148,1)" font-size="52.50">K</text>
<text transform="translate(1711.52,854.80) scale(0.8130,1)" font-size="35.50" stroke="#363636" stroke-width="0.7">D</text>
<text transform="translate(1748.55,845.70) scale(0.8954,1)" font-size="52.50">=</text>
<text transform="translate(1790.27,845.70) scale(0.8630,1)" font-size="52.50">1.6</text>
<text transform="translate(1869.70,844.30) scale(1.0041,1)" font-size="47.00" stroke="#363636" stroke-width="1.3">×</text>
<text transform="translate(1912.29,845.70) scale(0.9166,1)" font-size="52.50">10</text>
<text transform="translate(1966.65,830.60) scale(0.9055,1)" font-size="35.50" stroke="#363636" stroke-width="0.7">-10</text>
<text transform="translate(2018.54,845.70) scale(0.9845,1)" font-size="52.50">M</text>
<text transform="translate(1680.17,903.00) scale(0.9269,1)" font-size="51.00" font-style="italic">k</text>
<text transform="translate(1705.18,912.00) scale(0.8839,1)" font-size="35.50" font-style="italic" stroke="#363636" stroke-width="0.7">on</text>
<text transform="translate(1751.44,903.20) scale(0.9386,1)" font-size="52.50">=</text>
<text transform="translate(1793.60,903.20) scale(0.9354,1)" font-size="52.50">7.5</text>
<text transform="translate(1876.01,901.80)" font-size="47.00" stroke="#363636" stroke-width="1.3">×</text>
<text transform="translate(1917.51,903.20) scale(0.9108,1)" font-size="52.50">10</text>
<text transform="translate(1972.46,888.00) scale(0.9429,1)" font-size="35.50" stroke="#363636" stroke-width="0.7">5</text>
<text transform="translate(1999.18,903.20) scale(1.0216,1)" font-size="52.50">M</text>
<text transform="translate(2039.93,888.00) scale(0.9177,1)" font-size="35.50" stroke="#363636" stroke-width="0.7">-1</text>
<text transform="translate(2069.86,903.20) scale(0.9970,1)" font-size="52.50">s</text>
<text transform="translate(2093.74,888.00) scale(0.9142,1)" font-size="35.50" stroke="#363636" stroke-width="0.7">-1</text>
<text transform="translate(1680.17,960.30) scale(0.9269,1)" font-size="51.00" font-style="italic">k</text>
<text transform="translate(1705.16,969.20) scale(0.8995,1)" font-size="35.50" font-style="italic" stroke="#363636" stroke-width="0.7">off</text>
<text transform="translate(1751.44,960.60) scale(0.9386,1)" font-size="52.50">=</text>
<text transform="translate(1793.88,960.60) scale(0.9262,1)" font-size="52.50">1.2</text>
<text transform="translate(1876.01,959.20)" font-size="47.00" stroke="#363636" stroke-width="1.3">×</text>
<text transform="translate(1918.48,960.60) scale(0.8937,1)" font-size="52.50">10</text>
<text transform="translate(1972.32,946.00) scale(0.9263,1)" font-size="35.50" stroke="#363636" stroke-width="0.7">-4</text>
<text transform="translate(2010.22,960.60) scale(0.9535,1)" font-size="52.50">s</text>
<text transform="translate(2034.04,946.00) scale(0.9142,1)" font-size="35.50" stroke="#363636" stroke-width="0.7">-1</text>
</g>
<g id="panelC">
<path d="M478.0,1309.5 V1897.8" stroke="#000" stroke-width="7"/>
<path d="M475.0,1895.8 H1817.5" stroke="#2e2e2e" stroke-width="4.8"/>
<path d="M478.0,1312.0 H494.0" stroke="#1e1e1e" stroke-width="4.6"/>
<path d="M478.0,1384.9 H494.0" stroke="#1e1e1e" stroke-width="4.6"/>
<path d="M478.0,1457.9 H494.0" stroke="#1e1e1e" stroke-width="4.6"/>
<path d="M478.0,1530.8 H494.0" stroke="#1e1e1e" stroke-width="4.6"/>
<path d="M478.0,1603.6 H494.0" stroke="#1e1e1e" stroke-width="4.6"/>
<path d="M478.0,1676.6 H494.0" stroke="#1e1e1e" stroke-width="4.6"/>
<path d="M478.0,1749.5 H494.0" stroke="#1e1e1e" stroke-width="4.6"/>
<path d="M478.0,1822.2 H494.0" stroke="#1e1e1e" stroke-width="4.6"/>
<rect x="537.8" y="1888.3" width="6.5" height="8" rx="3" fill="#000"/>
<rect x="792.5" y="1888.3" width="6.5" height="8" rx="3" fill="#000"/>
<rect x="1046.0" y="1888.3" width="6.5" height="8" rx="3" fill="#000"/>
<rect x="1301.8" y="1888.3" width="6.5" height="8" rx="3" fill="#000"/>
<rect x="1556.7" y="1888.3" width="6.5" height="8" rx="3" fill="#000"/>
<rect x="1810.8" y="1888.3" width="6.5" height="8" rx="3" fill="#000"/>
<path d="M475.0,1822.0 L543.0,1821.5" stroke="#0000FF" stroke-width="9.0" stroke-linecap="round"/>
<path d="M541.5,1821.5 L544.5,1500.0" stroke="#3c3c3c" stroke-width="4.6"/>
<path d="M548.0,1814.0 L550.2,1811.9 L552.3,1809.8 L554.5,1807.7 L556.6,1805.5 L558.7,1803.4 L560.8,1801.2 L562.8,1799.0 L564.9,1796.8 L566.9,1794.6 L568.9,1792.3 L570.9,1790.1 L572.9,1787.8 L574.8,1785.5 L576.7,1783.2 L578.6,1780.9 L580.5,1778.5 L582.4,1776.1 L584.2,1773.8 L586.1,1771.4 L587.9,1769.0 L589.8,1766.6 L591.6,1764.2 L593.4,1761.8 L595.2,1759.4 L597.0,1757.0 L598.8,1754.6 L600.5,1752.2 L602.3,1749.7 L604.1,1747.3 L605.9,1744.9 L607.6,1742.4 L609.4,1740.0 L611.3,1737.6 L613.1,1735.2 L614.9,1732.8 L616.7,1730.4 L618.5,1728.0 L620.4,1725.6 L622.2,1723.2 L624.0,1720.8 L625.9,1718.5 L627.7,1716.1 L629.6,1713.7 L631.4,1711.3 L633.3,1709.0 L635.1,1706.6 L637.0,1704.2 L638.8,1701.8 L640.6,1699.4 L642.5,1697.1 L644.4,1694.7 L646.3,1692.4 L648.2,1690.1 L650.2,1687.8 L652.2,1685.6 L654.3,1683.4 L656.4,1681.2 L658.5,1679.1 L660.6,1676.9 L662.8,1674.9 L665.1,1672.9 L667.3,1670.9 L669.6,1668.9 L672.0,1667.0 L674.4,1665.2 L676.8,1663.5 L679.3,1661.8 L681.9,1660.3 L684.5,1658.8 L687.1,1657.4 L689.8,1656.0 L692.5,1654.6 L695.3,1653.3 L698.0,1652.1 L700.8,1650.9 L703.5,1649.6 L706.3,1648.4 L709.1,1647.2 L711.9,1646.1 L714.7,1645.1 L717.6,1644.1 L720.5,1643.4 L723.4,1642.7 L726.3,1642.0 L729.3,1641.4 L732.3,1640.8 L735.3,1640.4 L738.3,1640.1 L741.2,1640.0 L744.2,1639.9 L747.2,1639.8 L750.2,1639.8 L753.2,1639.7 L756.2,1639.7 L759.3,1639.7 L762.3,1639.6 L765.3,1639.6 L768.3,1639.6 L771.3,1639.6 L774.3,1639.5 L777.4,1639.5 L780.4,1639.5 L783.4,1639.4 L786.4,1639.4 L789.4,1639.4 L792.4,1639.3 L795.4,1639.3 L798.4,1639.2 L801.4,1639.2 L804.5,1639.2 L807.5,1639.1 L810.5,1639.1 L813.5,1639.0 L816.5,1639.0 L819.5,1638.9 L822.5,1638.9 L825.5,1638.8 L828.5,1638.8 L831.5,1638.8 L834.5,1638.7 L837.6,1638.7 L840.6,1638.6 L843.6,1638.6 L846.6,1638.5 L849.6,1638.5 L852.6,1638.4 L855.6,1638.4 L858.6,1638.4 L861.6,1638.3 L864.6,1638.3 L867.7,1638.2 L870.7,1638.2 L873.7,1638.1 L876.7,1638.1 L879.7,1638.1 L882.7,1638.0 L885.7,1638.0 L888.7,1637.9 L891.7,1637.9 L894.7,1637.8 L897.7,1637.8 L900.8,1637.8 L903.8,1637.7 L906.8,1637.7 L909.8,1637.6 L912.8,1637.6 L915.8,1637.5 L918.8,1637.5 L921.8,1637.5 L924.8,1637.4 L927.8,1637.4 L930.9,1637.3 L933.9,1637.3 L936.9,1637.2 L939.9,1637.2 L942.9,1637.2 L945.9,1637.1 L948.9,1637.1 L951.9,1637.0 L954.9,1637.0 L957.9,1636.9 L961.0,1636.9 L964.0,1636.9 L967.0,1636.8 L970.0,1636.8 L973.0,1636.7 L976.0,1636.7 L979.0,1636.7 L982.0,1636.6 L985.0,1636.6 L988.0,1636.5 L991.0,1636.5 L994.1,1636.5 L997.1,1636.4 L1000.1,1636.4 L1003.1,1636.3 L1006.1,1636.3 L1009.1,1636.3 L1012.1,1636.2 L1015.1,1636.2 L1018.1,1636.2 L1021.1,1636.1 L1024.2,1636.1 L1027.2,1636.1 L1030.2,1636.0 L1033.2,1636.0 L1036.2,1636.0 L1039.2,1636.0 L1042.2,1635.9 L1045.2,1635.9 L1048.2,1635.9 L1051.2,1635.8 L1054.3,1635.8 L1057.3,1635.8 L1060.3,1635.8 L1063.3,1635.7 L1066.3,1635.7 L1069.3,1635.7 L1072.3,1635.7 L1075.3,1635.7 L1078.3,1635.6 L1081.3,1635.6 L1084.3,1635.6 L1087.4,1635.6 L1090.4,1635.5 L1093.4,1635.5 L1096.4,1635.5 L1099.4,1635.5 L1102.4,1635.5 L1105.4,1635.5 L1108.4,1635.4 L1111.4,1635.4 L1114.4,1635.4 L1117.5,1635.4 L1120.5,1635.4 L1123.5,1635.3 L1126.5,1635.3 L1129.5,1635.3 L1132.5,1635.3 L1135.5,1635.3 L1138.5,1635.3 L1141.5,1635.2 L1144.5,1635.2 L1147.6,1635.2 L1150.6,1635.2 L1153.6,1635.2 L1156.6,1635.2 L1159.6,1635.2 L1162.6,1635.1 L1165.6,1635.1 L1168.6,1635.1 L1171.6,1635.1 L1174.6,1635.1 L1177.7,1635.1 L1180.7,1635.0 L1183.7,1635.0 L1186.7,1635.0 L1189.7,1635.0 L1192.7,1635.0 L1195.7,1635.0 L1198.7,1634.9 L1201.7,1634.9 L1204.7,1634.9 L1207.8,1634.9 L1210.8,1634.9 L1213.8,1634.9 L1216.8,1634.9 L1219.8,1634.8 L1222.8,1634.8 L1225.8,1634.8 L1228.8,1634.8 L1231.8,1634.8 L1234.8,1634.7 L1237.9,1634.7 L1240.9,1634.7 L1243.9,1634.7 L1246.9,1634.7 L1249.9,1634.7 L1252.9,1634.6 L1255.9,1634.6 L1258.9,1634.6 L1261.9,1634.6 L1264.9,1634.6 L1267.9,1634.5 L1271.0,1634.5 L1274.0,1634.5 L1277.0,1634.5 L1280.0,1634.5 L1283.0,1634.4 L1286.0,1634.4 L1289.0,1634.4 L1292.0,1634.4 L1295.0,1634.4 L1298.0,1634.3 L1301.1,1634.3 L1304.1,1634.3 L1307.1,1634.3 L1310.1,1634.3 L1313.1,1634.2 L1316.1,1634.2 L1319.1,1634.2 L1322.1,1634.2 L1325.1,1634.2 L1328.1,1634.1 L1331.2,1634.1 L1334.2,1634.1 L1337.2,1634.1 L1340.2,1634.1 L1343.2,1634.0 L1346.2,1634.0 L1349.2,1634.0 L1352.2,1634.0 L1355.2,1633.9 L1358.2,1633.9 L1361.3,1633.9 L1364.3,1633.9 L1367.3,1633.9 L1370.3,1633.8 L1373.3,1633.8 L1376.3,1633.8 L1379.3,1633.8 L1382.3,1633.8 L1385.3,1633.7 L1388.3,1633.7 L1391.4,1633.7 L1394.4,1633.7 L1397.4,1633.6 L1400.4,1633.6 L1403.4,1633.6 L1406.4,1633.6 L1409.4,1633.6 L1412.4,1633.5 L1415.4,1633.5 L1418.4,1633.5 L1421.5,1633.5 L1424.5,1633.4 L1427.5,1633.4 L1430.5,1633.4 L1433.5,1633.4 L1436.5,1633.3 L1439.5,1633.3 L1442.5,1633.3 L1445.5,1633.3 L1448.5,1633.3 L1451.5,1633.2 L1454.6,1633.2 L1457.6,1633.2 L1460.6,1633.2 L1463.6,1633.1 L1466.6,1633.1 L1469.6,1633.1 L1472.6,1633.1 L1475.6,1633.0 L1478.6,1633.0 L1481.6,1633.0 L1484.7,1633.0 L1487.7,1632.9 L1490.7,1632.9 L1493.7,1632.9 L1496.7,1632.9 L1499.7,1632.9 L1502.7,1632.8 L1505.7,1632.8 L1508.7,1632.8 L1511.7,1632.8 L1514.8,1632.7 L1517.8,1632.7 L1520.8,1632.7 L1523.8,1632.7 L1526.8,1632.6 L1529.8,1632.6 L1532.8,1632.6 L1535.8,1632.6 L1538.8,1632.5 L1541.8,1632.5 L1544.9,1632.5 L1547.9,1632.5 L1550.9,1632.4 L1553.9,1632.4 L1556.9,1632.4 L1559.9,1632.4 L1562.9,1632.4 L1565.9,1632.3 L1568.9,1632.3 L1571.9,1632.3 L1575.0,1632.3 L1578.0,1632.3 L1581.0,1632.3 L1584.0,1632.3 L1587.0,1632.3 L1590.0,1632.2" fill="none" stroke="#800080" stroke-width="7.5" stroke-linecap="round" stroke-linejoin="round"/>
<path d="M547.5,1815.0 L547.8,1812.0 L548.1,1809.0 L548.4,1806.0 L548.8,1803.0 L549.2,1800.0 L549.7,1797.1 L550.3,1794.1 L550.8,1791.2 L551.5,1788.2 L552.1,1785.3 L552.9,1782.3 L553.6,1779.4 L554.4,1776.5 L555.1,1773.6 L555.9,1770.6 L556.8,1767.7 L557.6,1764.8 L558.4,1761.9 L559.3,1759.0 L560.1,1756.1 L560.9,1753.2 L561.8,1750.4 L562.7,1747.5 L563.7,1744.6 L564.6,1741.8 L565.6,1738.9 L566.6,1736.1 L567.6,1733.2 L568.6,1730.3 L569.5,1727.5 L570.5,1724.6 L571.4,1721.8 L572.3,1718.9 L573.3,1716.0 L574.2,1713.1 L575.1,1710.3 L576.0,1707.4 L577.0,1704.5 L578.0,1701.7 L579.0,1698.8 L580.0,1696.0 L581.1,1693.2 L582.2,1690.4 L583.4,1687.7 L584.6,1684.9 L585.8,1682.2 L587.1,1679.4 L588.4,1676.7 L589.7,1674.0 L591.0,1671.2 L592.3,1668.5 L593.6,1665.8 L594.9,1663.1 L596.3,1660.4 L597.6,1657.6 L598.8,1654.9 L600.1,1652.2 L601.4,1649.4 L602.7,1646.7 L604.0,1644.0 L605.4,1641.3 L606.9,1638.7 L608.4,1636.1 L610.0,1633.6 L611.7,1631.1 L613.5,1628.6 L615.4,1626.2 L617.3,1623.9 L619.2,1621.6 L621.2,1619.4 L623.3,1617.2 L625.5,1615.1 L627.7,1613.0 L629.9,1610.9 L632.0,1608.8 L634.1,1606.6 L636.2,1604.4 L638.3,1602.2 L640.4,1600.1 L642.5,1598.0 L644.8,1596.0 L647.0,1594.0 L649.4,1592.1 L651.8,1590.2 L654.2,1588.4 L656.7,1586.7 L659.2,1585.0 L661.8,1583.5 L664.4,1582.1 L667.1,1580.7 L669.8,1579.4 L672.6,1578.1 L675.4,1576.9 L678.1,1575.8 L680.9,1574.7 L683.8,1573.6 L686.6,1572.5 L689.5,1571.4 L692.3,1570.5 L695.2,1569.6 L698.1,1568.9 L701.1,1568.4 L704.0,1568.0 L707.0,1567.6 L710.0,1567.3 L713.0,1567.0 L716.0,1566.7 L719.1,1566.5 L722.1,1566.3 L725.1,1566.0 L728.1,1565.8 L731.1,1565.6 L734.1,1565.4 L737.1,1565.2 L740.1,1565.1 L743.2,1565.1 L746.2,1565.1 L749.2,1565.3 L752.2,1565.5 L755.2,1565.7 L758.2,1566.0 L761.2,1566.3 L764.2,1566.6 L767.2,1566.9 L770.2,1567.2 L773.2,1567.5 L776.2,1567.8 L779.2,1568.0 L782.2,1568.3 L785.2,1568.5 L788.2,1568.7 L791.2,1568.9 L794.2,1569.0 L797.2,1569.2 L800.3,1569.4 L803.3,1569.5 L806.3,1569.7 L809.3,1569.9 L812.3,1570.1 L815.3,1570.2 L818.3,1570.4 L821.3,1570.6 L824.4,1570.8 L827.4,1570.9 L830.4,1571.1 L833.4,1571.3 L836.4,1571.5 L839.4,1571.6 L842.4,1571.8 L845.4,1572.0 L848.4,1572.2 L851.4,1572.4 L854.4,1572.5 L857.4,1572.7 L860.4,1572.8 L863.5,1573.0 L866.5,1573.1 L869.5,1573.2 L872.5,1573.3 L875.5,1573.5 L878.5,1573.6 L881.5,1573.6 L884.5,1573.7 L887.5,1573.8 L890.6,1573.8 L893.6,1573.9 L896.6,1574.0 L899.6,1574.0 L902.6,1574.0 L905.6,1574.1 L908.6,1574.1 L911.6,1574.1 L914.7,1574.2 L917.7,1574.2 L920.7,1574.2 L923.7,1574.2 L926.7,1574.3 L929.7,1574.3 L932.7,1574.3 L935.8,1574.3 L938.8,1574.4 L941.8,1574.4 L944.8,1574.4 L947.8,1574.4 L950.8,1574.4 L953.8,1574.4 L956.9,1574.5 L959.9,1574.5 L962.9,1574.5 L965.9,1574.5 L968.9,1574.5 L971.9,1574.5 L975.0,1574.5 L978.0,1574.6 L981.0,1574.6 L984.0,1574.6 L987.0,1574.6 L990.0,1574.6 L993.1,1574.6 L996.1,1574.6 L999.1,1574.6 L1002.1,1574.7 L1005.1,1574.7 L1008.1,1574.7 L1011.2,1574.7 L1014.2,1574.7 L1017.2,1574.7 L1020.2,1574.7 L1023.2,1574.7 L1026.2,1574.8 L1029.2,1574.8 L1032.3,1574.8 L1035.3,1574.8 L1038.3,1574.8 L1041.3,1574.8 L1044.3,1574.9 L1047.3,1574.9 L1050.4,1574.9 L1053.4,1574.9 L1056.4,1574.9 L1059.4,1574.9 L1062.4,1575.0 L1065.4,1575.0 L1068.4,1575.0 L1071.5,1575.0 L1074.5,1575.0 L1077.5,1575.1 L1080.5,1575.1 L1083.5,1575.1 L1086.5,1575.1 L1089.5,1575.1 L1092.6,1575.2 L1095.6,1575.2 L1098.6,1575.2 L1101.6,1575.2 L1104.6,1575.3 L1107.6,1575.3 L1110.7,1575.3 L1113.7,1575.3 L1116.7,1575.3 L1119.7,1575.4 L1122.7,1575.4 L1125.7,1575.4 L1128.7,1575.4 L1131.8,1575.5 L1134.8,1575.5 L1137.8,1575.5 L1140.8,1575.5 L1143.8,1575.6 L1146.8,1575.6 L1149.8,1575.6 L1152.9,1575.6 L1155.9,1575.6 L1158.9,1575.7 L1161.9,1575.7 L1164.9,1575.7 L1167.9,1575.7 L1170.9,1575.7 L1174.0,1575.8 L1177.0,1575.8 L1180.0,1575.8 L1183.0,1575.8 L1186.0,1575.8 L1189.0,1575.9 L1192.0,1575.9 L1195.1,1575.9 L1198.1,1575.9 L1201.1,1575.9 L1204.1,1575.9 L1207.1,1575.9 L1210.1,1576.0 L1213.2,1576.0 L1216.2,1576.0 L1219.2,1576.0 L1222.2,1576.0 L1225.2,1576.0 L1228.2,1576.0 L1231.2,1576.0 L1234.3,1576.0 L1237.3,1576.1 L1240.3,1576.1 L1243.3,1576.1 L1246.3,1576.1 L1249.3,1576.1 L1252.3,1576.1 L1255.4,1576.1 L1258.4,1576.1 L1261.4,1576.1 L1264.4,1576.1 L1267.4,1576.1 L1270.4,1576.1 L1273.4,1576.1 L1276.5,1576.1 L1279.5,1576.1 L1282.5,1576.1 L1285.5,1576.1 L1288.5,1576.1 L1291.5,1576.1 L1294.6,1576.1 L1297.6,1576.1 L1300.6,1576.1 L1303.6,1576.1 L1306.6,1576.1 L1309.6,1576.1 L1312.6,1576.1 L1315.7,1576.1 L1318.7,1576.1 L1321.7,1576.1 L1324.7,1576.1 L1327.7,1576.1 L1330.7,1576.1 L1333.7,1576.1 L1336.8,1576.1 L1339.8,1576.1 L1342.8,1576.1 L1345.8,1576.1 L1348.8,1576.1 L1351.8,1576.1 L1354.8,1576.1 L1357.9,1576.1 L1360.9,1576.1 L1363.9,1576.1 L1366.9,1576.1 L1369.9,1576.1 L1372.9,1576.1 L1375.9,1576.1 L1379.0,1576.1 L1382.0,1576.1 L1385.0,1576.1 L1388.0,1576.1 L1391.0,1576.1 L1394.0,1576.1 L1397.1,1576.1 L1400.1,1576.1 L1403.1,1576.1 L1406.1,1576.1 L1409.1,1576.1 L1412.1,1576.1 L1415.1,1576.1 L1418.2,1576.1 L1421.2,1576.1 L1424.2,1576.1 L1427.2,1576.1 L1430.2,1576.1 L1433.2,1576.1 L1436.2,1576.1 L1439.3,1576.1 L1442.3,1576.1 L1445.3,1576.1 L1448.3,1576.1 L1451.3,1576.1 L1454.3,1576.1 L1457.3,1576.1 L1460.4,1576.1 L1463.4,1576.1 L1466.4,1576.1 L1469.4,1576.1 L1472.4,1576.1 L1475.4,1576.1 L1478.5,1576.1 L1481.5,1576.1 L1484.5,1576.1 L1487.5,1576.1 L1490.5,1576.1 L1493.5,1576.1 L1496.5,1576.1 L1499.6,1576.1 L1502.6,1576.1 L1505.6,1576.1 L1508.6,1576.1 L1511.6,1576.1 L1514.6,1576.1 L1517.6,1576.1 L1520.7,1576.1 L1523.7,1576.1 L1526.7,1576.1 L1529.7,1576.1 L1532.7,1576.1 L1535.7,1576.1 L1538.7,1576.1 L1541.8,1576.1 L1544.8,1576.1 L1547.8,1576.1 L1550.8,1576.1 L1553.8,1576.1 L1556.8,1576.1 L1559.9,1576.1 L1562.9,1576.1 L1565.9,1576.1 L1568.9,1576.1 L1571.9,1576.1 L1574.9,1576.1 L1577.9,1576.1 L1581.0,1576.1 L1584.0,1576.1 L1587.0,1576.1 L1590.0,1576.1" fill="none" stroke="#00F000" stroke-width="8.0" stroke-linecap="round" stroke-linejoin="round"/>
<path d="M556.3,1660.0 L556.8,1657.0 L557.2,1654.1 L557.7,1651.1 L558.2,1648.1 L558.7,1645.1 L559.2,1642.2 L559.7,1639.2 L560.2,1636.2 L560.7,1633.3 L561.3,1630.3 L561.8,1627.3 L562.3,1624.4 L562.9,1621.4 L563.4,1618.4 L563.9,1615.5 L564.4,1612.5 L565.0,1609.5 L565.5,1606.5 L566.1,1603.6 L566.8,1600.6 L567.4,1597.7 L568.1,1594.8 L568.9,1591.9 L569.7,1589.1 L570.7,1586.2 L571.7,1583.2 L572.8,1580.4 L574.0,1577.5 L575.3,1574.8 L576.6,1572.1 L578.1,1569.6 L579.7,1567.3 L581.7,1565.0 L583.8,1562.8 L586.1,1560.7 L588.4,1558.7 L590.6,1556.7 L592.9,1554.7 L595.2,1552.8 L597.6,1551.0 L600.0,1549.1 L602.5,1547.4 L604.9,1545.7 L607.5,1544.1 L610.0,1542.5 L612.6,1541.0 L615.3,1539.5 L617.9,1538.1 L620.6,1536.6 L623.2,1535.2 L625.9,1533.9 L628.6,1532.5 L631.3,1531.2 L634.0,1529.9 L636.8,1528.6 L639.5,1527.3 L642.2,1526.0 L644.9,1524.7 L647.7,1523.5 L650.4,1522.2 L653.2,1521.1 L656.0,1520.0 L658.8,1519.0 L661.7,1518.0 L664.5,1517.1 L667.4,1516.2 L670.3,1515.3 L673.2,1514.6 L676.2,1513.9 L679.1,1513.3 L682.1,1512.8 L685.0,1512.3 L688.0,1511.8 L691.0,1511.4 L694.0,1511.0 L697.0,1510.6 L700.0,1510.3 L703.0,1510.0 L706.0,1509.7 L709.0,1509.4 L712.0,1509.2 L715.0,1509.0 L718.0,1508.8 L721.0,1508.6 L724.0,1508.4 L727.0,1508.2 L730.0,1508.1 L733.0,1508.0 L736.0,1507.9 L739.0,1507.9 L742.0,1508.1 L745.0,1508.4 L747.9,1508.8 L750.9,1509.4 L753.9,1509.9 L756.8,1510.6 L759.8,1511.2 L762.8,1511.8 L765.7,1512.3 L768.7,1512.8 L771.7,1513.3 L774.6,1513.7 L777.6,1514.1 L780.6,1514.5 L783.6,1514.9 L786.6,1515.2 L789.6,1515.6 L792.6,1515.9 L795.6,1516.2 L798.6,1516.5 L801.6,1516.8 L804.6,1517.1 L807.6,1517.3 L810.6,1517.6 L813.6,1517.9 L816.6,1518.1 L819.6,1518.4 L822.6,1518.6 L825.6,1518.8 L828.6,1519.0 L831.6,1519.2 L834.6,1519.4 L837.6,1519.6 L840.6,1519.8 L843.6,1520.0 L846.6,1520.1 L849.6,1520.3 L852.6,1520.4 L855.6,1520.6 L858.6,1520.7 L861.6,1520.9 L864.6,1521.0 L867.7,1521.1 L870.7,1521.2 L873.7,1521.4 L876.7,1521.5 L879.7,1521.6 L882.7,1521.7 L885.7,1521.8 L888.7,1522.0 L891.7,1522.1 L894.7,1522.2 L897.7,1522.3 L900.7,1522.4 L903.7,1522.5 L906.8,1522.6 L909.8,1522.7 L912.8,1522.8 L915.8,1522.9 L918.8,1523.0 L921.8,1523.1 L924.8,1523.2 L927.8,1523.3 L930.8,1523.4 L933.8,1523.5 L936.8,1523.6 L939.8,1523.7 L942.9,1523.8 L945.9,1523.9 L948.9,1524.0 L951.9,1524.1 L954.9,1524.1 L957.9,1524.2 L960.9,1524.3 L963.9,1524.4 L966.9,1524.5 L969.9,1524.6 L972.9,1524.6 L976.0,1524.7 L979.0,1524.8 L982.0,1524.9 L985.0,1524.9 L988.0,1525.0 L991.0,1525.1 L994.0,1525.1 L997.0,1525.2 L1000.0,1525.3 L1003.0,1525.3 L1006.1,1525.4 L1009.1,1525.5 L1012.1,1525.5 L1015.1,1525.6 L1018.1,1525.6 L1021.1,1525.7 L1024.1,1525.7 L1027.1,1525.8 L1030.1,1525.8 L1033.1,1525.9 L1036.2,1525.9 L1039.2,1526.0 L1042.2,1526.0 L1045.2,1526.1 L1048.2,1526.1 L1051.2,1526.1 L1054.2,1526.2 L1057.2,1526.2 L1060.2,1526.2 L1063.2,1526.3 L1066.2,1526.3 L1069.3,1526.3 L1072.3,1526.4 L1075.3,1526.4 L1078.3,1526.4 L1081.3,1526.4 L1084.3,1526.5 L1087.3,1526.5 L1090.3,1526.5 L1093.3,1526.5 L1096.3,1526.6 L1099.4,1526.6 L1102.4,1526.6 L1105.4,1526.7 L1108.4,1526.7 L1111.4,1526.7 L1114.4,1526.7 L1117.4,1526.8 L1120.4,1526.8 L1123.4,1526.8 L1126.4,1526.8 L1129.5,1526.8 L1132.5,1526.9 L1135.5,1526.9 L1138.5,1526.9 L1141.5,1526.9 L1144.5,1527.0 L1147.5,1527.0 L1150.5,1527.0 L1153.5,1527.0 L1156.5,1527.0 L1159.6,1527.1 L1162.6,1527.1 L1165.6,1527.1 L1168.6,1527.1 L1171.6,1527.1 L1174.6,1527.1 L1177.6,1527.2 L1180.6,1527.2 L1183.6,1527.2 L1186.6,1527.2 L1189.7,1527.2 L1192.7,1527.2 L1195.7,1527.2 L1198.7,1527.3 L1201.7,1527.3 L1204.7,1527.3 L1207.7,1527.3 L1210.7,1527.3 L1213.7,1527.3 L1216.7,1527.3 L1219.8,1527.3 L1222.8,1527.3 L1225.8,1527.3 L1228.8,1527.3 L1231.8,1527.4 L1234.8,1527.4 L1237.8,1527.4 L1240.8,1527.4 L1243.8,1527.4 L1246.9,1527.4 L1249.9,1527.4 L1252.9,1527.4 L1255.9,1527.4 L1258.9,1527.4 L1261.9,1527.4 L1264.9,1527.4 L1267.9,1527.4 L1270.9,1527.4 L1273.9,1527.4 L1277.0,1527.4 L1280.0,1527.4 L1283.0,1527.4 L1286.0,1527.4 L1289.0,1527.4 L1292.0,1527.4 L1295.0,1527.4 L1298.0,1527.4 L1301.0,1527.4 L1304.0,1527.4 L1307.1,1527.4 L1310.1,1527.4 L1313.1,1527.4 L1316.1,1527.4 L1319.1,1527.4 L1322.1,1527.4 L1325.1,1527.4 L1328.1,1527.4 L1331.1,1527.4 L1334.1,1527.4 L1337.2,1527.4 L1340.2,1527.4 L1343.2,1527.4 L1346.2,1527.4 L1349.2,1527.4 L1352.2,1527.4 L1355.2,1527.4 L1358.2,1527.4 L1361.2,1527.4 L1364.2,1527.4 L1367.3,1527.4 L1370.3,1527.4 L1373.3,1527.4 L1376.3,1527.4 L1379.3,1527.4 L1382.3,1527.4 L1385.3,1527.4 L1388.3,1527.4 L1391.3,1527.4 L1394.3,1527.4 L1397.4,1527.4 L1400.4,1527.4 L1403.4,1527.4 L1406.4,1527.4 L1409.4,1527.4 L1412.4,1527.4 L1415.4,1527.4 L1418.4,1527.4 L1421.4,1527.4 L1424.4,1527.4 L1427.5,1527.4 L1430.5,1527.4 L1433.5,1527.4 L1436.5,1527.4 L1439.5,1527.4 L1442.5,1527.4 L1445.5,1527.4 L1448.5,1527.4 L1451.5,1527.4 L1454.5,1527.4 L1457.6,1527.4 L1460.6,1527.4 L1463.6,1527.4 L1466.6,1527.4 L1469.6,1527.4 L1472.6,1527.4 L1475.6,1527.4 L1478.6,1527.4 L1481.6,1527.4 L1484.6,1527.4 L1487.7,1527.4 L1490.7,1527.4 L1493.7,1527.4 L1496.7,1527.4 L1499.7,1527.4 L1502.7,1527.4 L1505.7,1527.4 L1508.7,1527.4 L1511.7,1527.4 L1514.7,1527.4 L1517.8,1527.4 L1520.8,1527.4 L1523.8,1527.4 L1526.8,1527.4 L1529.8,1527.4 L1532.8,1527.4 L1535.8,1527.4 L1538.8,1527.4 L1541.8,1527.4 L1544.8,1527.4 L1547.9,1527.4 L1550.9,1527.4 L1553.9,1527.4 L1556.9,1527.4 L1559.9,1527.4 L1562.9,1527.4 L1565.9,1527.4 L1568.9,1527.4 L1571.9,1527.4 L1574.9,1527.4 L1578.0,1527.4 L1581.0,1527.4 L1584.0,1527.4 L1587.0,1527.4 L1590.0,1527.4" fill="none" stroke="#FF0000" stroke-width="7.5" stroke-linecap="round" stroke-linejoin="round"/>
<path d="M542.8,1503.0 L543.2,1499.9 L543.9,1496.8 L544.7,1493.9 L545.7,1491.0 L546.8,1488.3 L547.9,1485.7 L549.4,1483.1 L551.1,1480.5 L553.1,1478.0 L555.3,1475.7 L557.5,1473.7 L559.8,1472.1 L562.3,1470.7 L565.1,1469.5 L568.0,1468.4 L570.9,1467.4 L573.9,1466.4 L576.8,1465.5 L579.7,1464.7 L582.6,1463.9 L585.5,1463.2 L588.4,1462.5 L591.4,1461.8 L594.3,1461.1 L597.3,1460.4 L600.2,1459.7 L603.1,1458.9 L606.1,1458.1 L609.0,1457.3 L611.9,1456.5 L614.8,1455.7 L617.7,1455.0 L620.7,1454.4 L623.6,1453.9 L626.6,1453.5 L629.6,1453.2 L632.6,1452.9 L635.6,1452.6 L638.6,1452.3 L641.7,1452.1 L644.7,1451.9 L647.7,1451.6 L650.7,1451.4 L653.7,1451.2 L656.7,1451.0 L659.7,1450.8 L662.7,1450.6 L665.7,1450.4 L668.7,1450.2 L671.8,1450.0 L674.8,1449.8 L677.8,1449.5 L680.8,1449.3 L683.8,1449.0 L686.8,1448.8 L689.8,1448.5 L692.8,1448.2 L695.8,1447.9 L698.8,1447.6 L701.8,1447.3 L704.8,1446.9 L707.8,1446.6 L710.8,1446.2 L713.8,1445.8 L716.8,1445.2 L719.8,1444.6 L722.8,1443.8 L725.8,1443.0 L728.7,1442.2 L731.7,1441.6 L734.6,1441.1 L737.5,1440.9 L740.3,1441.1 L743.0,1441.9 L745.7,1443.2 L748.4,1444.7 L751.0,1446.3 L753.7,1447.9 L756.3,1449.5 L759.0,1450.9 L761.7,1452.3 L764.5,1453.7 L767.2,1455.0 L770.0,1456.2 L772.8,1457.4 L775.5,1458.6 L778.3,1459.7 L781.1,1460.7 L783.9,1461.7 L786.7,1462.6 L789.6,1463.6 L792.4,1464.4 L795.3,1465.2 L798.1,1466.0 L801.0,1466.8 L803.9,1467.6 L806.8,1468.4 L809.8,1469.2 L812.7,1469.9 L815.7,1470.6 L818.7,1471.3 L821.7,1471.9 L824.6,1472.5 L827.6,1473.1 L830.6,1473.7 L833.6,1474.2 L836.6,1474.8 L839.5,1475.3 L842.5,1475.8 L845.5,1476.2 L848.5,1476.7 L851.5,1477.1 L854.5,1477.6 L857.5,1478.0 L860.4,1478.4 L863.4,1478.8 L866.4,1479.2 L869.4,1479.5 L872.4,1479.9 L875.4,1480.2 L878.4,1480.6 L881.4,1480.9 L884.4,1481.2 L887.4,1481.6 L890.4,1481.9 L893.4,1482.2 L896.4,1482.5 L899.4,1482.7 L902.4,1483.0 L905.4,1483.3 L908.5,1483.6 L911.5,1483.8 L914.5,1484.1 L917.5,1484.3 L920.5,1484.6 L923.5,1484.8 L926.5,1485.0 L929.5,1485.3 L932.5,1485.5 L935.5,1485.7 L938.5,1485.9 L941.6,1486.1 L944.6,1486.3 L947.6,1486.5 L950.6,1486.7 L953.6,1486.8 L956.6,1487.0 L959.6,1487.2 L962.6,1487.3 L965.6,1487.5 L968.7,1487.6 L971.7,1487.8 L974.7,1487.9 L977.7,1488.1 L980.7,1488.2 L983.7,1488.3 L986.7,1488.5 L989.7,1488.6 L992.8,1488.7 L995.8,1488.8 L998.8,1488.9 L1001.8,1489.0 L1004.8,1489.2 L1007.8,1489.3 L1010.9,1489.4 L1013.9,1489.5 L1016.9,1489.6 L1019.9,1489.7 L1022.9,1489.8 L1025.9,1489.9 L1028.9,1490.0 L1032.0,1490.1 L1035.0,1490.2 L1038.0,1490.3 L1041.0,1490.4 L1044.0,1490.5 L1047.0,1490.6 L1050.1,1490.6 L1053.1,1490.7 L1056.1,1490.8 L1059.1,1490.9 L1062.1,1491.0 L1065.1,1491.1 L1068.2,1491.2 L1071.2,1491.3 L1074.2,1491.4 L1077.2,1491.5 L1080.2,1491.5 L1083.2,1491.6 L1086.2,1491.7 L1089.3,1491.8 L1092.3,1491.9 L1095.3,1492.0 L1098.3,1492.1 L1101.3,1492.1 L1104.3,1492.2 L1107.4,1492.3 L1110.4,1492.4 L1113.4,1492.4 L1116.4,1492.5 L1119.4,1492.6 L1122.4,1492.7 L1125.4,1492.7 L1128.5,1492.8 L1131.5,1492.9 L1134.5,1492.9 L1137.5,1493.0 L1140.5,1493.0 L1143.5,1493.1 L1146.6,1493.2 L1149.6,1493.2 L1152.6,1493.3 L1155.6,1493.3 L1158.6,1493.4 L1161.6,1493.4 L1164.7,1493.5 L1167.7,1493.5 L1170.7,1493.5 L1173.7,1493.6 L1176.7,1493.6 L1179.7,1493.7 L1182.8,1493.7 L1185.8,1493.7 L1188.8,1493.8 L1191.8,1493.8 L1194.8,1493.9 L1197.8,1493.9 L1200.9,1493.9 L1203.9,1494.0 L1206.9,1494.0 L1209.9,1494.0 L1212.9,1494.1 L1215.9,1494.1 L1219.0,1494.1 L1222.0,1494.2 L1225.0,1494.2 L1228.0,1494.2 L1231.0,1494.2 L1234.0,1494.3 L1237.1,1494.3 L1240.1,1494.3 L1243.1,1494.3 L1246.1,1494.4 L1249.1,1494.4 L1252.1,1494.4 L1255.2,1494.5 L1258.2,1494.5 L1261.2,1494.5 L1264.2,1494.5 L1267.2,1494.6 L1270.2,1494.6 L1273.3,1494.6 L1276.3,1494.6 L1279.3,1494.7 L1282.3,1494.7 L1285.3,1494.7 L1288.3,1494.7 L1291.4,1494.7 L1294.4,1494.8 L1297.4,1494.8 L1300.4,1494.8 L1303.4,1494.8 L1306.4,1494.9 L1309.5,1494.9 L1312.5,1494.9 L1315.5,1494.9 L1318.5,1495.0 L1321.5,1495.0 L1324.5,1495.0 L1327.6,1495.0 L1330.6,1495.1 L1333.6,1495.1 L1336.6,1495.1 L1339.6,1495.1 L1342.6,1495.1 L1345.7,1495.2 L1348.7,1495.2 L1351.7,1495.2 L1354.7,1495.2 L1357.7,1495.3 L1360.7,1495.3 L1363.7,1495.3 L1366.8,1495.3 L1369.8,1495.3 L1372.8,1495.4 L1375.8,1495.4 L1378.8,1495.4 L1381.8,1495.4 L1384.9,1495.4 L1387.9,1495.5 L1390.9,1495.5 L1393.9,1495.5 L1396.9,1495.5 L1399.9,1495.5 L1403.0,1495.6 L1406.0,1495.6 L1409.0,1495.6 L1412.0,1495.6 L1415.0,1495.6 L1418.0,1495.7 L1421.1,1495.7 L1424.1,1495.7 L1427.1,1495.7 L1430.1,1495.7 L1433.1,1495.8 L1436.1,1495.8 L1439.2,1495.8 L1442.2,1495.8 L1445.2,1495.8 L1448.2,1495.8 L1451.2,1495.9 L1454.2,1495.9 L1457.3,1495.9 L1460.3,1495.9 L1463.3,1495.9 L1466.3,1495.9 L1469.3,1496.0 L1472.3,1496.0 L1475.4,1496.0 L1478.4,1496.0 L1481.4,1496.0 L1484.4,1496.0 L1487.4,1496.1 L1490.4,1496.1 L1493.5,1496.1 L1496.5,1496.1 L1499.5,1496.1 L1502.5,1496.1 L1505.5,1496.1 L1508.5,1496.1 L1511.6,1496.2 L1514.6,1496.2 L1517.6,1496.2 L1520.6,1496.2 L1523.6,1496.2 L1526.6,1496.2 L1529.7,1496.2 L1532.7,1496.2 L1535.7,1496.2 L1538.7,1496.3 L1541.7,1496.3 L1544.7,1496.3 L1547.8,1496.3 L1550.8,1496.3 L1553.8,1496.3 L1556.8,1496.3 L1559.8,1496.3 L1562.8,1496.3 L1565.9,1496.3 L1568.9,1496.3 L1571.9,1496.3 L1574.9,1496.3 L1577.9,1496.4 L1580.9,1496.4 L1584.0,1496.4 L1587.0,1496.4 L1590.0,1496.4" fill="none" stroke="#00F0F2" stroke-width="8.5" stroke-linecap="round" stroke-linejoin="round"/>
<path d="M552.1,1562.4 L552.3,1559.4 L552.6,1556.3 L553.0,1553.3 L553.4,1550.3 L553.9,1547.4 L554.5,1544.4 L555.0,1541.5 L555.6,1538.5 L556.3,1535.6 L556.9,1532.7 L557.6,1529.8 L558.5,1526.9 L559.4,1524.0 L560.4,1521.1 L561.4,1518.3 L562.5,1515.5 L563.7,1512.7 L565.0,1510.0 L566.3,1507.3 L567.7,1504.7 L569.3,1502.1 L571.0,1499.5 L572.8,1497.1 L574.7,1494.7 L576.6,1492.4 L578.6,1490.3 L580.7,1488.2 L582.9,1486.1 L585.2,1484.1 L587.6,1482.2 L590.1,1480.4 L592.5,1478.6 L595.0,1476.9 L597.5,1475.3 L600.1,1473.8 L602.7,1472.3 L605.3,1470.8 L608.0,1469.4 L610.7,1468.0 L613.3,1466.6 L616.0,1465.1 L618.6,1463.7 L621.3,1462.2 L623.9,1460.8 L626.6,1459.4 L629.3,1458.1 L632.0,1456.8 L634.7,1455.6 L637.5,1454.4 L640.3,1453.3 L643.1,1452.2 L645.9,1451.2 L648.8,1450.2 L651.6,1449.2 L654.5,1448.2 L657.3,1447.3 L660.2,1446.3 L663.1,1445.4 L665.9,1444.5 L668.8,1443.6 L671.7,1442.7 L674.6,1441.9 L677.5,1441.1 L680.4,1440.4 L683.3,1439.7 L686.3,1439.1 L689.2,1438.5 L692.2,1437.9 L695.1,1437.3 L698.1,1436.8 L701.0,1436.2 L704.0,1435.7 L707.0,1435.2 L709.9,1434.7 L712.9,1434.1 L715.9,1433.6 L718.8,1432.9 L721.8,1432.3 L724.7,1431.6 L727.7,1431.0 L730.7,1430.5 L733.7,1430.1 L736.6,1429.9 L739.6,1429.9 L742.6,1429.9 L745.7,1429.9 L748.7,1429.9 L751.7,1430.1 L754.6,1430.4 L757.6,1430.8 L760.5,1431.4 L763.5,1432.0 L766.4,1432.7 L769.4,1433.3 L772.3,1434.0 L775.2,1434.6 L778.2,1435.1 L781.1,1435.6 L784.1,1436.1 L787.1,1436.6 L790.0,1437.0 L793.0,1437.4 L796.0,1437.8 L799.0,1438.2 L802.0,1438.5 L805.0,1438.9 L808.0,1439.2 L811.0,1439.6 L814.0,1439.9 L817.0,1440.3 L820.0,1440.6 L823.0,1440.9 L826.0,1441.2 L829.0,1441.6 L832.0,1441.9 L835.0,1442.2 L838.0,1442.5 L840.9,1442.8 L843.9,1443.1 L846.9,1443.4 L849.9,1443.6 L852.9,1443.9 L855.9,1444.2 L858.9,1444.4 L861.9,1444.7 L864.9,1444.9 L867.9,1445.1 L870.9,1445.3 L873.9,1445.5 L876.9,1445.7 L879.9,1445.8 L882.9,1446.0 L885.9,1446.1 L888.9,1446.3 L891.9,1446.4 L894.9,1446.5 L897.9,1446.6 L900.9,1446.7 L903.9,1446.8 L906.9,1446.9 L909.9,1447.0 L912.9,1447.1 L915.9,1447.2 L918.9,1447.2 L921.9,1447.3 L924.9,1447.4 L927.9,1447.4 L931.0,1447.5 L934.0,1447.6 L937.0,1447.6 L940.0,1447.7 L943.0,1447.7 L946.0,1447.8 L949.0,1447.9 L952.0,1447.9 L955.0,1448.0 L958.0,1448.0 L961.0,1448.1 L964.1,1448.1 L967.1,1448.2 L970.1,1448.2 L973.1,1448.2 L976.1,1448.3 L979.1,1448.3 L982.1,1448.4 L985.1,1448.4 L988.2,1448.5 L991.2,1448.5 L994.2,1448.5 L997.2,1448.6 L1000.2,1448.6 L1003.2,1448.7 L1006.2,1448.7 L1009.2,1448.7 L1012.2,1448.8 L1015.3,1448.8 L1018.3,1448.9 L1021.3,1448.9 L1024.3,1449.0 L1027.3,1449.0 L1030.3,1449.0 L1033.3,1449.1 L1036.3,1449.1 L1039.3,1449.2 L1042.4,1449.2 L1045.4,1449.3 L1048.4,1449.3 L1051.4,1449.4 L1054.4,1449.4 L1057.4,1449.5 L1060.4,1449.5 L1063.4,1449.6 L1066.4,1449.6 L1069.4,1449.7 L1072.4,1449.7 L1075.5,1449.8 L1078.5,1449.8 L1081.5,1449.9 L1084.5,1450.0 L1087.5,1450.0 L1090.5,1450.1 L1093.5,1450.1 L1096.5,1450.2 L1099.5,1450.2 L1102.5,1450.3 L1105.5,1450.4 L1108.6,1450.4 L1111.6,1450.5 L1114.6,1450.5 L1117.6,1450.6 L1120.6,1450.7 L1123.6,1450.7 L1126.6,1450.8 L1129.6,1450.8 L1132.6,1450.9 L1135.6,1450.9 L1138.6,1451.0 L1141.6,1451.1 L1144.7,1451.1 L1147.7,1451.2 L1150.7,1451.2 L1153.7,1451.3 L1156.7,1451.3 L1159.7,1451.4 L1162.7,1451.4 L1165.7,1451.5 L1168.7,1451.5 L1171.7,1451.6 L1174.7,1451.6 L1177.8,1451.7 L1180.8,1451.7 L1183.8,1451.8 L1186.8,1451.8 L1189.8,1451.9 L1192.8,1451.9 L1195.8,1452.0 L1198.8,1452.0 L1201.8,1452.0 L1204.8,1452.1 L1207.8,1452.1 L1210.9,1452.1 L1213.9,1452.2 L1216.9,1452.2 L1219.9,1452.2 L1222.9,1452.3 L1225.9,1452.3 L1228.9,1452.3 L1231.9,1452.3 L1234.9,1452.4 L1237.9,1452.4 L1240.9,1452.4 L1243.9,1452.4 L1247.0,1452.4 L1250.0,1452.4 L1253.0,1452.4 L1256.0,1452.5 L1259.0,1452.5 L1262.0,1452.5 L1265.0,1452.5 L1268.0,1452.5 L1271.0,1452.5 L1274.0,1452.5 L1277.0,1452.5 L1280.1,1452.5 L1283.1,1452.5 L1286.1,1452.5 L1289.1,1452.5 L1292.1,1452.5 L1295.1,1452.5 L1298.1,1452.5 L1301.1,1452.5 L1304.1,1452.5 L1307.1,1452.5 L1310.1,1452.5 L1313.2,1452.5 L1316.2,1452.5 L1319.2,1452.5 L1322.2,1452.5 L1325.2,1452.5 L1328.2,1452.5 L1331.2,1452.5 L1334.2,1452.5 L1337.2,1452.5 L1340.2,1452.5 L1343.2,1452.5 L1346.3,1452.5 L1349.3,1452.5 L1352.3,1452.5 L1355.3,1452.6 L1358.3,1452.6 L1361.3,1452.6 L1364.3,1452.6 L1367.3,1452.6 L1370.3,1452.6 L1373.3,1452.6 L1376.3,1452.6 L1379.4,1452.6 L1382.4,1452.6 L1385.4,1452.6 L1388.4,1452.6 L1391.4,1452.6 L1394.4,1452.6 L1397.4,1452.6 L1400.4,1452.6 L1403.4,1452.6 L1406.4,1452.6 L1409.4,1452.6 L1412.5,1452.6 L1415.5,1452.6 L1418.5,1452.6 L1421.5,1452.6 L1424.5,1452.6 L1427.5,1452.6 L1430.5,1452.6 L1433.5,1452.6 L1436.5,1452.6 L1439.5,1452.6 L1442.5,1452.6 L1445.6,1452.6 L1448.6,1452.6 L1451.6,1452.6 L1454.6,1452.6 L1457.6,1452.6 L1460.6,1452.6 L1463.6,1452.6 L1466.6,1452.6 L1469.6,1452.6 L1472.6,1452.6 L1475.6,1452.6 L1478.7,1452.6 L1481.7,1452.6 L1484.7,1452.6 L1487.7,1452.6 L1490.7,1452.6 L1493.7,1452.6 L1496.7,1452.6 L1499.7,1452.6 L1502.7,1452.6 L1505.7,1452.6 L1508.7,1452.6 L1511.8,1452.6 L1514.8,1452.6 L1517.8,1452.6 L1520.8,1452.6 L1523.8,1452.6 L1526.8,1452.6 L1529.8,1452.6 L1532.8,1452.6 L1535.8,1452.6 L1538.8,1452.6 L1541.9,1452.6 L1544.9,1452.6 L1547.9,1452.6 L1550.9,1452.6 L1553.9,1452.6 L1556.9,1452.6 L1559.9,1452.6 L1562.9,1452.6 L1565.9,1452.6 L1568.9,1452.6 L1571.9,1452.6 L1575.0,1452.6 L1578.0,1452.6 L1581.0,1452.6 L1584.0,1452.6 L1587.0,1452.6 L1590.0,1452.6" fill="none" stroke="#0000FF" stroke-width="8.0" stroke-linecap="round" stroke-linejoin="round"/>
<path d="M548.5,1505.0 L548.7,1502.0 L548.9,1499.0 L549.3,1496.0 L549.7,1493.0 L550.2,1490.1 L550.8,1487.1 L551.5,1484.0 L552.3,1481.0 L553.3,1478.0 L554.3,1475.1 L555.4,1472.3 L556.6,1469.5 L557.8,1466.9 L559.1,1464.4 L560.7,1462.1 L562.5,1459.8 L564.6,1457.7 L566.9,1455.6 L569.3,1453.6 L571.8,1451.6 L574.3,1449.7 L576.7,1447.9 L579.1,1446.2 L581.6,1444.4 L584.2,1442.8 L586.8,1441.2 L589.4,1439.7 L592.0,1438.4 L594.7,1437.1 L597.4,1435.8 L600.2,1434.6 L603.0,1433.4 L605.8,1432.3 L608.6,1431.1 L611.4,1430.1 L614.3,1429.0 L617.1,1428.0 L620.0,1427.1 L622.9,1426.1 L625.7,1425.3 L628.6,1424.4 L631.5,1423.6 L634.4,1422.8 L637.3,1422.0 L640.2,1421.3 L643.2,1420.6 L646.1,1419.9 L649.0,1419.2 L652.0,1418.5 L655.0,1417.9 L657.9,1417.3 L660.9,1416.7 L663.8,1416.2 L666.8,1415.7 L669.7,1415.2 L672.7,1414.7 L675.7,1414.2 L678.7,1413.8 L681.6,1413.3 L684.6,1412.9 L687.6,1412.5 L690.6,1412.1 L693.6,1411.7 L696.6,1411.3 L699.6,1410.9 L702.6,1410.5 L705.5,1410.1 L708.5,1409.7 L711.5,1409.3 L714.5,1408.9 L717.5,1408.4 L720.5,1407.9 L723.5,1407.3 L726.5,1406.8 L729.5,1406.3 L732.5,1405.8 L735.5,1405.4 L738.5,1405.2 L741.4,1405.0 L744.3,1405.1 L747.1,1405.6 L749.9,1406.5 L752.7,1407.7 L755.5,1409.0 L758.2,1410.4 L761.0,1411.7 L763.7,1413.0 L766.5,1414.1 L769.3,1415.1 L772.1,1416.0 L775.0,1416.8 L777.9,1417.6 L780.8,1418.3 L783.7,1418.9 L786.7,1419.5 L789.7,1420.0 L792.7,1420.5 L795.7,1421.0 L798.7,1421.5 L801.7,1421.9 L804.7,1422.3 L807.7,1422.8 L810.6,1423.2 L813.6,1423.7 L816.6,1424.1 L819.6,1424.5 L822.6,1424.8 L825.6,1425.2 L828.6,1425.6 L831.6,1426.0 L834.6,1426.3 L837.6,1426.7 L840.6,1427.1 L843.6,1427.4 L846.6,1427.8 L849.6,1428.1 L852.6,1428.5 L855.5,1428.9 L858.5,1429.2 L861.5,1429.5 L864.4,1429.9 L867.4,1430.2 L870.4,1430.5 L873.4,1430.8 L876.4,1431.1 L879.3,1431.4 L882.3,1431.7 L885.3,1431.9 L888.3,1432.2 L891.3,1432.4 L894.3,1432.6 L897.3,1432.8 L900.3,1433.0 L903.3,1433.2 L906.3,1433.4 L909.3,1433.6 L912.3,1433.7 L915.3,1433.9 L918.3,1434.1 L921.3,1434.2 L924.3,1434.4 L927.3,1434.5 L930.4,1434.6 L933.4,1434.8 L936.4,1434.9 L939.4,1435.0 L942.4,1435.1 L945.4,1435.3 L948.4,1435.4 L951.4,1435.5 L954.4,1435.6 L957.5,1435.7 L960.5,1435.8 L963.5,1435.9 L966.5,1436.0 L969.5,1436.1 L972.5,1436.2 L975.6,1436.3 L978.6,1436.4 L981.6,1436.5 L984.6,1436.6 L987.6,1436.7 L990.6,1436.8 L993.7,1436.9 L996.7,1436.9 L999.7,1437.0 L1002.7,1437.1 L1005.7,1437.2 L1008.7,1437.3 L1011.8,1437.4 L1014.8,1437.4 L1017.8,1437.5 L1020.8,1437.6 L1023.8,1437.7 L1026.8,1437.8 L1029.9,1437.8 L1032.9,1437.9 L1035.9,1438.0 L1038.9,1438.1 L1041.9,1438.2 L1044.9,1438.2 L1047.9,1438.3 L1051.0,1438.4 L1054.0,1438.5 L1057.0,1438.6 L1060.0,1438.6 L1063.0,1438.7 L1066.0,1438.8 L1069.0,1438.9 L1072.0,1439.0 L1075.0,1439.1 L1078.0,1439.1 L1081.1,1439.2 L1084.1,1439.3 L1087.1,1439.4 L1090.1,1439.5 L1093.1,1439.5 L1096.1,1439.6 L1099.1,1439.7 L1102.1,1439.8 L1105.1,1439.9 L1108.2,1439.9 L1111.2,1440.0 L1114.2,1440.1 L1117.2,1440.2 L1120.2,1440.2 L1123.2,1440.3 L1126.2,1440.4 L1129.2,1440.5 L1132.2,1440.5 L1135.3,1440.6 L1138.3,1440.7 L1141.3,1440.8 L1144.3,1440.8 L1147.3,1440.9 L1150.3,1441.0 L1153.3,1441.0 L1156.3,1441.1 L1159.3,1441.2 L1162.4,1441.2 L1165.4,1441.3 L1168.4,1441.4 L1171.4,1441.4 L1174.4,1441.5 L1177.4,1441.6 L1180.4,1441.6 L1183.4,1441.7 L1186.4,1441.8 L1189.5,1441.8 L1192.5,1441.9 L1195.5,1441.9 L1198.5,1442.0 L1201.5,1442.0 L1204.5,1442.1 L1207.5,1442.2 L1210.5,1442.2 L1213.5,1442.3 L1216.6,1442.3 L1219.6,1442.4 L1222.6,1442.4 L1225.6,1442.5 L1228.6,1442.5 L1231.6,1442.6 L1234.6,1442.6 L1237.6,1442.7 L1240.6,1442.7 L1243.7,1442.8 L1246.7,1442.8 L1249.7,1442.8 L1252.7,1442.9 L1255.7,1442.9 L1258.7,1443.0 L1261.7,1443.0 L1264.7,1443.0 L1267.8,1443.1 L1270.8,1443.1 L1273.8,1443.2 L1276.8,1443.2 L1279.8,1443.2 L1282.8,1443.3 L1285.8,1443.3 L1288.8,1443.4 L1291.8,1443.4 L1294.9,1443.4 L1297.9,1443.5 L1300.9,1443.5 L1303.9,1443.5 L1306.9,1443.6 L1309.9,1443.6 L1312.9,1443.7 L1315.9,1443.7 L1318.9,1443.7 L1322.0,1443.8 L1325.0,1443.8 L1328.0,1443.8 L1331.0,1443.9 L1334.0,1443.9 L1337.0,1444.0 L1340.0,1444.0 L1343.0,1444.0 L1346.0,1444.1 L1349.1,1444.1 L1352.1,1444.1 L1355.1,1444.2 L1358.1,1444.2 L1361.1,1444.2 L1364.1,1444.3 L1367.1,1444.3 L1370.1,1444.3 L1373.2,1444.4 L1376.2,1444.4 L1379.2,1444.4 L1382.2,1444.5 L1385.2,1444.5 L1388.2,1444.5 L1391.2,1444.6 L1394.2,1444.6 L1397.2,1444.6 L1400.3,1444.7 L1403.3,1444.7 L1406.3,1444.7 L1409.3,1444.8 L1412.3,1444.8 L1415.3,1444.8 L1418.3,1444.8 L1421.3,1444.9 L1424.3,1444.9 L1427.4,1444.9 L1430.4,1445.0 L1433.4,1445.0 L1436.4,1445.0 L1439.4,1445.0 L1442.4,1445.1 L1445.4,1445.1 L1448.4,1445.1 L1451.5,1445.1 L1454.5,1445.2 L1457.5,1445.2 L1460.5,1445.2 L1463.5,1445.2 L1466.5,1445.3 L1469.5,1445.3 L1472.5,1445.3 L1475.5,1445.3 L1478.6,1445.4 L1481.6,1445.4 L1484.6,1445.4 L1487.6,1445.4 L1490.6,1445.4 L1493.6,1445.5 L1496.6,1445.5 L1499.6,1445.5 L1502.7,1445.5 L1505.7,1445.5 L1508.7,1445.5 L1511.7,1445.6 L1514.7,1445.6 L1517.7,1445.6 L1520.7,1445.6 L1523.7,1445.6 L1526.7,1445.6 L1529.8,1445.6 L1532.8,1445.7 L1535.8,1445.7 L1538.8,1445.7 L1541.8,1445.7 L1544.8,1445.7 L1547.8,1445.7 L1550.8,1445.7 L1553.9,1445.7 L1556.9,1445.7 L1559.9,1445.7 L1562.9,1445.7 L1565.9,1445.8 L1568.9,1445.8 L1571.9,1445.8 L1574.9,1445.8 L1578.0,1445.8 L1581.0,1445.8 L1584.0,1445.8 L1587.0,1445.8 L1590.0,1445.8" fill="none" stroke="#FF00FF" stroke-width="7.5" stroke-linecap="round" stroke-linejoin="round"/>
<path d="M544.0,1805.0 L548.5,1505.0" stroke="#FF00FF" stroke-width="5.5" stroke-linecap="round" stroke-dasharray="0 11.0"/>
<path d="M545.0,1815.0 L552.1,1562.4" stroke="#0000FF" stroke-width="6.5" stroke-linecap="round" stroke-dasharray="0 9.0"/>
<path d="M547.0,1815.0 L556.3,1660.0" stroke="#FF0000" stroke-width="6.0" stroke-linecap="round" stroke-dasharray="0 8.5"/>
<circle cx="543.5" cy="1510.0" r="4.2" fill="#00F0F2"/>
<circle cx="542.9" cy="1554.0" r="4.2" fill="#00F0F2"/>
<circle cx="542.3" cy="1676.0" r="4.2" fill="#00F0F2"/>
<circle cx="541.8" cy="1742.0" r="4.2" fill="#00F0F2"/>
<text transform="translate(362.42,1333.60) scale(0.9300,1)" font-size="52.50">350</text>
<text transform="translate(362.42,1406.50) scale(0.9300,1)" font-size="52.50">300</text>
<text transform="translate(362.42,1479.30) scale(0.9300,1)" font-size="52.50">250</text>
<text transform="translate(362.42,1552.20) scale(0.9300,1)" font-size="52.50">200</text>
<text transform="translate(362.42,1625.10) scale(0.9300,1)" font-size="52.50">150</text>
<text transform="translate(362.42,1696.30) scale(0.9300,1)" font-size="52.50">100</text>
<text transform="translate(389.64,1769.20) scale(0.9300,1)" font-size="52.50">50</text>
<text transform="translate(416.73,1843.70) scale(0.9300,1)" font-size="52.50">0</text>
<text transform="translate(373.28,1914.90) scale(0.9300,1)" font-size="52.50">-50</text>
<text transform="translate(527.65,1951.80) scale(1.0252,1)" font-size="52.50">0</text>
<text transform="translate(744.04,1951.80) scale(0.9741,1)" font-size="52.50">200</text>
<text transform="translate(1002.59,1951.80) scale(0.9396,1)" font-size="52.50">400</text>
<text transform="translate(1256.89,1951.80) scale(0.9572,1)" font-size="52.50">600</text>
<text transform="translate(1513.74,1951.80) scale(0.9695,1)" font-size="52.50">800</text>
<text transform="translate(1745.84,1951.80) scale(0.9289,1)" font-size="52.50">1000</text>
<g class="k">
<text transform="translate(47.72,1322.06) scale(0.9101,1)" font-size="73.64" font-weight="bold">C</text>
<text transform="translate(1088.94,1379.00) scale(0.9758,1)" font-size="60.80" font-weight="bold">m336</text>
<text transform="translate(1251.09,1379.00) scale(0.9494,1)" font-size="60.80" font-weight="bold">diabody-pep</text>
<text transform="translate(288.26,1496.80) rotate(-90) scale(0.9245,1)" font-size="58.02" font-weight="bold">(RU)</text>
<text transform="translate(288.04,1782.88) rotate(-90) scale(0.9649,1)" font-size="59.55" font-weight="bold">Response</text>
</g>
<text transform="translate(1678.00,1512.00) scale(1.0148,1)" font-size="52.50">K</text>
<text transform="translate(1711.52,1521.10) scale(0.8130,1)" font-size="35.50" stroke="#363636" stroke-width="0.7">D</text>
<text transform="translate(1748.55,1512.00) scale(0.8954,1)" font-size="52.50">=</text>
<text transform="translate(1790.27,1512.00) scale(0.8630,1)" font-size="52.50">1.1</text>
<text transform="translate(1869.70,1510.60) scale(1.0041,1)" font-size="47.00" stroke="#363636" stroke-width="1.3">×</text>
<text transform="translate(1912.29,1512.00) scale(0.9166,1)" font-size="52.50">10</text>
<text transform="translate(1966.65,1496.90) scale(0.9055,1)" font-size="35.50" stroke="#363636" stroke-width="0.7">-9</text>
<text transform="translate(2000.04,1512.00) scale(0.9845,1)" font-size="52.50">M</text>
<text transform="translate(1680.17,1569.30) scale(0.9269,1)" font-size="51.00" font-style="italic">k</text>
<text transform="translate(1705.18,1578.30) scale(0.8839,1)" font-size="35.50" font-style="italic" stroke="#363636" stroke-width="0.7">on</text>
<text transform="translate(1751.44,1569.50) scale(0.9386,1)" font-size="52.50">=</text>
<text transform="translate(1793.60,1569.50) scale(0.9354,1)" font-size="52.50">1.1</text>
<text transform="translate(1876.01,1568.10)" font-size="47.00" stroke="#363636" stroke-width="1.3">×</text>
<text transform="translate(1917.51,1569.50) scale(0.9108,1)" font-size="52.50">10</text>
<text transform="translate(1972.46,1554.30) scale(0.9429,1)" font-size="35.50" stroke="#363636" stroke-width="0.7">6</text>
<text transform="translate(1999.18,1569.50) scale(1.0216,1)" font-size="52.50">M</text>
<text transform="translate(2039.93,1554.30) scale(0.9177,1)" font-size="35.50" stroke="#363636" stroke-width="0.7">-1</text>
<text transform="translate(2069.86,1569.50) scale(0.9970,1)" font-size="52.50">s</text>
<text transform="translate(2093.74,1554.30) scale(0.9142,1)" font-size="35.50" stroke="#363636" stroke-width="0.7">-1</text>
<text transform="translate(1680.17,1626.60) scale(0.9269,1)" font-size="51.00" font-style="italic">k</text>
<text transform="translate(1705.16,1635.50) scale(0.8995,1)" font-size="35.50" font-style="italic" stroke="#363636" stroke-width="0.7">off</text>
<text transform="translate(1751.44,1626.90) scale(0.9386,1)" font-size="52.50">=</text>
<text transform="translate(1793.88,1626.90) scale(0.9262,1)" font-size="52.50">1.2</text>
<text transform="translate(1876.01,1625.50)" font-size="47.00" stroke="#363636" stroke-width="1.3">×</text>
<text transform="translate(1918.48,1626.90) scale(0.8937,1)" font-size="52.50">10</text>
<text transform="translate(1972.32,1612.30) scale(0.9263,1)" font-size="35.50" stroke="#363636" stroke-width="0.7">-3</text>
<text transform="translate(2010.22,1626.90) scale(0.9535,1)" font-size="52.50">s</text>
<text transform="translate(2034.04,1612.30) scale(0.9142,1)" font-size="35.50" stroke="#363636" stroke-width="0.7">-1</text>
</g>
<g class="k"><text transform="translate(1054.72,2040.00) scale(0.9448,1)" font-size="61.20" font-weight="bold">Time</text><text transform="translate(1199.82,2039.88) scale(0.9457,1)" font-size="58.87" font-weight="bold">(s)</text></g>
</g></svg></body></html>
